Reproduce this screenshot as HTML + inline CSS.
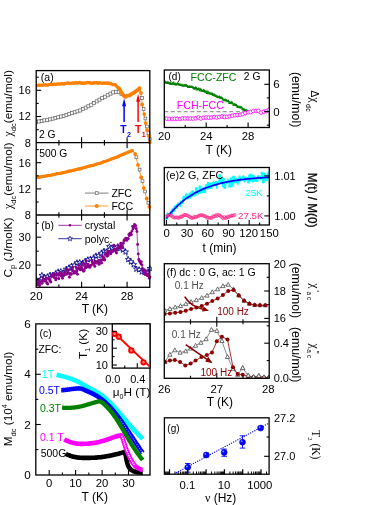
<!DOCTYPE html>
<html><head><meta charset="utf-8"><title>Figure</title>
<style>html,body{margin:0;padding:0;background:#fff;}svg{display:block;will-change:transform;}</style></head>
<body>
<svg width="390" height="505" viewBox="0 0 390 505" font-family="Liberation Sans, sans-serif">
<rect width="390" height="505" fill="#fff"/>
<clipPath id="ca"><rect x="36.2" y="70.6" width="115.6" height="74.1"/></clipPath><g clip-path="url(#ca)">
<g fill="#fff" stroke="#606060" stroke-width="0.7">
<rect x="34.7" y="120.5" width="3.1" height="3.1"/>
<rect x="37.4" y="119.9" width="3.1" height="3.1"/>
<rect x="40.2" y="119.4" width="3.1" height="3.1"/>
<rect x="42.9" y="118.8" width="3.1" height="3.1"/>
<rect x="45.7" y="118.3" width="3.1" height="3.1"/>
<rect x="48.4" y="117.8" width="3.1" height="3.1"/>
<rect x="51.2" y="117.1" width="3.1" height="3.1"/>
<rect x="53.9" y="116.4" width="3.1" height="3.1"/>
<rect x="56.7" y="115.7" width="3.1" height="3.1"/>
<rect x="59.4" y="115" width="3.1" height="3.1"/>
<rect x="62.2" y="114.3" width="3.1" height="3.1"/>
<rect x="64.9" y="113.5" width="3.1" height="3.1"/>
<rect x="67.7" y="112.5" width="3.1" height="3.1"/>
<rect x="70.4" y="111.6" width="3.1" height="3.1"/>
<rect x="73.2" y="110.7" width="3.1" height="3.1"/>
<rect x="75.9" y="109.8" width="3.1" height="3.1"/>
<rect x="78.7" y="108.9" width="3.1" height="3.1"/>
<rect x="81.4" y="107.5" width="3.1" height="3.1"/>
<rect x="84.2" y="106.1" width="3.1" height="3.1"/>
<rect x="86.9" y="104.7" width="3.1" height="3.1"/>
<rect x="89.7" y="103.2" width="3.1" height="3.1"/>
<rect x="92.4" y="101.5" width="3.1" height="3.1"/>
<rect x="95.2" y="99.8" width="3.1" height="3.1"/>
<rect x="97.9" y="98.1" width="3.1" height="3.1"/>
<rect x="100.7" y="96.6" width="3.1" height="3.1"/>
<rect x="103.4" y="95.2" width="3.1" height="3.1"/>
<rect x="106.2" y="93.7" width="3.1" height="3.1"/>
<rect x="108.9" y="92.1" width="3.1" height="3.1"/>
<rect x="111.7" y="90.8" width="3.1" height="3.1"/>
<rect x="114.4" y="90.2" width="3.1" height="3.1"/>
<rect x="117.2" y="90.5" width="3.1" height="3.1"/>
<rect x="119.9" y="92.2" width="3.1" height="3.1"/>
</g>
<g fill="#ff8000">
<circle cx="36.2" cy="86" r="1.6"/>
<circle cx="37.1" cy="85.6" r="1.6"/>
<circle cx="38" cy="85.5" r="1.6"/>
<circle cx="38.9" cy="84.9" r="1.6"/>
<circle cx="39.8" cy="85.3" r="1.6"/>
<circle cx="40.7" cy="85.2" r="1.6"/>
<circle cx="41.6" cy="85.2" r="1.6"/>
<circle cx="42.5" cy="85" r="1.6"/>
<circle cx="43.4" cy="85.1" r="1.6"/>
<circle cx="44.3" cy="84.9" r="1.6"/>
<circle cx="45.2" cy="84.6" r="1.6"/>
<circle cx="46.1" cy="85.1" r="1.6"/>
<circle cx="47" cy="85" r="1.6"/>
<circle cx="47.9" cy="85.2" r="1.6"/>
<circle cx="48.8" cy="84.7" r="1.6"/>
<circle cx="49.7" cy="84.5" r="1.6"/>
<circle cx="50.6" cy="84.4" r="1.6"/>
<circle cx="51.5" cy="84.1" r="1.6"/>
<circle cx="52.4" cy="84.7" r="1.6"/>
<circle cx="53.3" cy="84.1" r="1.6"/>
<circle cx="54.2" cy="84" r="1.6"/>
<circle cx="55.1" cy="84.2" r="1.6"/>
<circle cx="56" cy="84.6" r="1.6"/>
<circle cx="56.9" cy="84.2" r="1.6"/>
<circle cx="57.8" cy="83.8" r="1.6"/>
<circle cx="58.7" cy="83.8" r="1.6"/>
<circle cx="59.6" cy="84.1" r="1.6"/>
<circle cx="60.5" cy="83.9" r="1.6"/>
<circle cx="61.4" cy="83.6" r="1.6"/>
<circle cx="62.3" cy="83.7" r="1.6"/>
<circle cx="63.2" cy="83.9" r="1.6"/>
<circle cx="64.1" cy="84.2" r="1.6"/>
<circle cx="65" cy="83.3" r="1.6"/>
<circle cx="65.9" cy="83.4" r="1.6"/>
<circle cx="66.8" cy="83.3" r="1.6"/>
<circle cx="67.7" cy="82.9" r="1.6"/>
<circle cx="68.6" cy="83.2" r="1.6"/>
<circle cx="69.5" cy="83.1" r="1.6"/>
<circle cx="70.4" cy="83.6" r="1.6"/>
<circle cx="71.3" cy="83.3" r="1.6"/>
<circle cx="72.2" cy="82.9" r="1.6"/>
<circle cx="73.1" cy="83.4" r="1.6"/>
<circle cx="74" cy="83.1" r="1.6"/>
<circle cx="74.9" cy="82.7" r="1.6"/>
<circle cx="75.8" cy="82.9" r="1.6"/>
<circle cx="76.7" cy="82.9" r="1.6"/>
<circle cx="77.6" cy="82.8" r="1.6"/>
<circle cx="78.5" cy="83" r="1.6"/>
<circle cx="79.4" cy="82.4" r="1.6"/>
<circle cx="80.3" cy="82.8" r="1.6"/>
<circle cx="81.2" cy="83.1" r="1.6"/>
<circle cx="82.1" cy="83.1" r="1.6"/>
<circle cx="83" cy="83.2" r="1.6"/>
<circle cx="83.9" cy="83.2" r="1.6"/>
<circle cx="84.8" cy="83.2" r="1.6"/>
<circle cx="85.7" cy="82.6" r="1.6"/>
<circle cx="86.6" cy="83.1" r="1.6"/>
<circle cx="87.5" cy="82.4" r="1.6"/>
<circle cx="88.4" cy="82.7" r="1.6"/>
<circle cx="89.3" cy="82.4" r="1.6"/>
<circle cx="90.2" cy="83.1" r="1.6"/>
<circle cx="91.1" cy="83.2" r="1.6"/>
<circle cx="92" cy="82.8" r="1.6"/>
<circle cx="92.9" cy="83.3" r="1.6"/>
<circle cx="93.8" cy="82.7" r="1.6"/>
<circle cx="94.7" cy="82.9" r="1.6"/>
<circle cx="95.6" cy="82.9" r="1.6"/>
<circle cx="96.5" cy="82.6" r="1.6"/>
<circle cx="97.4" cy="82.9" r="1.6"/>
<circle cx="98.3" cy="83.3" r="1.6"/>
<circle cx="99.2" cy="82.5" r="1.6"/>
<circle cx="100.1" cy="83" r="1.6"/>
<circle cx="101" cy="82.8" r="1.6"/>
<circle cx="101.9" cy="83.3" r="1.6"/>
<circle cx="102.8" cy="83.1" r="1.6"/>
<circle cx="103.7" cy="83.2" r="1.6"/>
<circle cx="104.6" cy="83.2" r="1.6"/>
<circle cx="105.5" cy="83.2" r="1.6"/>
<circle cx="106.4" cy="82.8" r="1.6"/>
<circle cx="107.3" cy="83.5" r="1.6"/>
<circle cx="108.2" cy="82.9" r="1.6"/>
<circle cx="109.1" cy="83.4" r="1.6"/>
<circle cx="110" cy="83.7" r="1.6"/>
<circle cx="110.9" cy="83.6" r="1.6"/>
<circle cx="111.8" cy="84.1" r="1.6"/>
<circle cx="112.7" cy="84.7" r="1.6"/>
<circle cx="113.6" cy="84.6" r="1.6"/>
<circle cx="114.5" cy="84.7" r="1.6"/>
<circle cx="115.4" cy="84.6" r="1.6"/>
<circle cx="116.3" cy="85.9" r="1.6"/>
<circle cx="117.2" cy="86.8" r="1.6"/>
<circle cx="118.1" cy="87.6" r="1.85"/>
<circle cx="119" cy="88.3" r="1.85"/>
<circle cx="119.9" cy="89.6" r="1.85"/>
<circle cx="120.8" cy="91" r="1.85"/>
<circle cx="121.7" cy="92.8" r="1.85"/>
<circle cx="122.6" cy="94.4" r="1.85"/>
<circle cx="123.5" cy="95.2" r="1.85"/>
<circle cx="124.4" cy="96.4" r="1.85"/>
<circle cx="125.3" cy="96.9" r="1.85"/>
<circle cx="126.2" cy="96.4" r="1.85"/>
<circle cx="127.1" cy="95.6" r="1.85"/>
<circle cx="128" cy="95.6" r="1.85"/>
<circle cx="128.9" cy="95.4" r="1.85"/>
<circle cx="129.8" cy="95.3" r="1.85"/>
<circle cx="130.7" cy="94.6" r="1.85"/>
<circle cx="131.6" cy="93.9" r="1.85"/>
<circle cx="132.5" cy="93.3" r="1.85"/>
<circle cx="133.4" cy="93.1" r="1.85"/>
<circle cx="134.3" cy="92.4" r="1.85"/>
<circle cx="135.2" cy="91.6" r="1.85"/>
<circle cx="136.1" cy="91.2" r="1.85"/>
<circle cx="137" cy="90.4" r="1.85"/>
<circle cx="137.9" cy="89.9" r="1.85"/>
<circle cx="138.8" cy="88.7" r="1.85"/>
<circle cx="139.7" cy="88.1" r="1.85"/>
</g>
<polyline points="139.9,87.8 140.9,92.9 142.2,104.5 144.2,114.1 145.7,123.1 147.1,130.2 148.9,136 149.9,142.4" fill="none" stroke="#ff8000" stroke-width="0.8" />
<g fill="#fff" stroke="#606060" stroke-width="0.7">
<rect x="140.6" y="96.6" width="2.8" height="2.8"/>
<rect x="142.2" y="107.6" width="2.8" height="2.8"/>
<rect x="144" y="117.1" width="2.8" height="2.8"/>
<rect x="145.5" y="125.1" width="2.8" height="2.8"/>
<rect x="147.1" y="131.6" width="2.8" height="2.8"/>
<rect x="148.5" y="137.8" width="2.8" height="2.8"/>
</g>
<g fill="#ff8000">
<circle cx="140.9" cy="92.9" r="1.9"/>
<circle cx="142.2" cy="104.5" r="1.9"/>
<circle cx="144.2" cy="114.1" r="1.9"/>
<circle cx="145.7" cy="123.1" r="1.9"/>
<circle cx="147.1" cy="130.2" r="1.9"/>
<circle cx="148.9" cy="136" r="1.9"/>
<circle cx="149.9" cy="142.2" r="1.9"/>
</g>
</g>
<line x1="124.1" y1="122.1" x2="124.1" y2="105" stroke="#0000ff" stroke-width="1.5" />
<polygon points="124.1,98.5 122.1,106.3 126.1,106.3" fill="#0000ff"/>
<line x1="138.1" y1="122.1" x2="138.1" y2="100" stroke="#ff0000" stroke-width="1.5" />
<polygon points="138.1,93.9 136.1,101.7 140.1,101.7" fill="#ff0000"/>
<text x="120.3" y="132.8" font-size="10.3" fill="#0000ff" font-weight="bold" >T</text>
<text x="127" y="136.9" font-size="7" fill="#0000ff" font-weight="bold" >2</text>
<text x="135.1" y="132.8" font-size="10.3" fill="#ff0000" font-weight="bold" >T</text>
<text x="141.8" y="136.9" font-size="7" fill="#ff0000" font-weight="bold" >1</text>
<text x="40.8" y="81" font-size="10.5" >(a)</text>
<text x="39" y="137.5" font-size="10.3" >2 G</text>
<clipPath id="ca2"><rect x="36.2" y="142.7" width="115.6" height="73.3"/></clipPath><g clip-path="url(#ca2)">
<g fill="#ff8000">
<circle cx="36.2" cy="177.7" r="1.6"/>
<circle cx="37.1" cy="177.5" r="1.6"/>
<circle cx="38" cy="177.2" r="1.6"/>
<circle cx="38.9" cy="177.3" r="1.6"/>
<circle cx="39.8" cy="176.9" r="1.6"/>
<circle cx="40.7" cy="176.9" r="1.6"/>
<circle cx="41.6" cy="176.6" r="1.6"/>
<circle cx="42.5" cy="176.3" r="1.6"/>
<circle cx="43.4" cy="176.4" r="1.6"/>
<circle cx="44.3" cy="176.3" r="1.6"/>
<circle cx="45.2" cy="176.1" r="1.6"/>
<circle cx="46.1" cy="176" r="1.6"/>
<circle cx="47" cy="175.7" r="1.6"/>
<circle cx="47.9" cy="175.6" r="1.6"/>
<circle cx="48.8" cy="175.5" r="1.6"/>
<circle cx="49.7" cy="175.6" r="1.6"/>
<circle cx="50.6" cy="175.3" r="1.6"/>
<circle cx="51.5" cy="174.9" r="1.6"/>
<circle cx="52.4" cy="174.9" r="1.6"/>
<circle cx="53.3" cy="174.6" r="1.6"/>
<circle cx="54.2" cy="174.4" r="1.6"/>
<circle cx="55.1" cy="174.3" r="1.6"/>
<circle cx="56" cy="174" r="1.6"/>
<circle cx="56.9" cy="173.7" r="1.6"/>
<circle cx="57.8" cy="173.6" r="1.6"/>
<circle cx="58.7" cy="173.5" r="1.6"/>
<circle cx="59.6" cy="173.3" r="1.6"/>
<circle cx="60.5" cy="173.3" r="1.6"/>
<circle cx="61.4" cy="172.9" r="1.6"/>
<circle cx="62.3" cy="172.8" r="1.6"/>
<circle cx="63.2" cy="172.6" r="1.6"/>
<circle cx="64.1" cy="172.4" r="1.6"/>
<circle cx="65" cy="172.3" r="1.6"/>
<circle cx="65.9" cy="172" r="1.6"/>
<circle cx="66.8" cy="171.7" r="1.6"/>
<circle cx="67.7" cy="171.7" r="1.6"/>
<circle cx="68.6" cy="171.2" r="1.6"/>
<circle cx="69.5" cy="171.2" r="1.6"/>
<circle cx="70.4" cy="170.9" r="1.6"/>
<circle cx="71.3" cy="170.8" r="1.6"/>
<circle cx="72.2" cy="170.4" r="1.6"/>
<circle cx="73.1" cy="170.3" r="1.6"/>
<circle cx="74" cy="170.1" r="1.6"/>
<circle cx="74.9" cy="170" r="1.6"/>
<circle cx="75.8" cy="169.6" r="1.6"/>
<circle cx="76.7" cy="169.5" r="1.6"/>
<circle cx="77.6" cy="169.2" r="1.6"/>
<circle cx="78.5" cy="168.9" r="1.6"/>
<circle cx="79.4" cy="169.2" r="1.6"/>
<circle cx="80.3" cy="168.6" r="1.6"/>
<circle cx="81.2" cy="168.2" r="1.6"/>
<circle cx="82.1" cy="168.3" r="1.6"/>
<circle cx="83" cy="167.8" r="1.6"/>
<circle cx="83.9" cy="167.7" r="1.6"/>
<circle cx="84.8" cy="167.5" r="1.6"/>
<circle cx="85.7" cy="167.1" r="1.6"/>
<circle cx="86.6" cy="166.9" r="1.6"/>
<circle cx="87.5" cy="166.6" r="1.6"/>
<circle cx="88.4" cy="166.4" r="1.6"/>
<circle cx="89.3" cy="166" r="1.6"/>
<circle cx="90.2" cy="165.8" r="1.6"/>
<circle cx="91.1" cy="165.7" r="1.6"/>
<circle cx="92" cy="165.6" r="1.6"/>
<circle cx="92.9" cy="165.3" r="1.6"/>
<circle cx="93.8" cy="165.2" r="1.6"/>
<circle cx="94.7" cy="164.8" r="1.6"/>
<circle cx="95.6" cy="164.4" r="1.6"/>
<circle cx="96.5" cy="164.2" r="1.6"/>
<circle cx="97.4" cy="163.8" r="1.6"/>
<circle cx="98.3" cy="163.6" r="1.6"/>
<circle cx="99.2" cy="163.4" r="1.6"/>
<circle cx="100.1" cy="163.3" r="1.6"/>
<circle cx="101" cy="163" r="1.6"/>
<circle cx="101.9" cy="162.5" r="1.6"/>
<circle cx="102.8" cy="162.2" r="1.6"/>
<circle cx="103.7" cy="161.7" r="1.6"/>
<circle cx="104.6" cy="161.6" r="1.6"/>
<circle cx="105.5" cy="161.3" r="1.6"/>
<circle cx="106.4" cy="161" r="1.6"/>
<circle cx="107.3" cy="160.5" r="1.6"/>
<circle cx="108.2" cy="160.5" r="1.6"/>
<circle cx="109.1" cy="160" r="1.6"/>
<circle cx="110" cy="159.5" r="1.6"/>
<circle cx="110.9" cy="159.1" r="1.6"/>
<circle cx="111.8" cy="158.8" r="1.6"/>
<circle cx="112.7" cy="158.6" r="1.6"/>
<circle cx="113.6" cy="158.2" r="1.6"/>
<circle cx="114.5" cy="157.9" r="1.6"/>
<circle cx="115.4" cy="157.6" r="1.6"/>
<circle cx="116.3" cy="157.3" r="1.6"/>
<circle cx="117.2" cy="156.9" r="1.6"/>
<circle cx="118.1" cy="156.4" r="1.6"/>
<circle cx="119" cy="156" r="1.6"/>
<circle cx="119.9" cy="155.6" r="1.6"/>
<circle cx="120.8" cy="155.1" r="1.6"/>
<circle cx="121.7" cy="155.1" r="1.6"/>
<circle cx="122.6" cy="154.4" r="1.6"/>
<circle cx="123.5" cy="154.3" r="1.6"/>
<circle cx="124.4" cy="153.6" r="1.6"/>
<circle cx="125.3" cy="153.3" r="1.6"/>
<circle cx="126.2" cy="153" r="1.6"/>
<circle cx="127.1" cy="152.5" r="1.6"/>
<circle cx="128" cy="152.2" r="1.6"/>
<circle cx="128.9" cy="151.8" r="1.6"/>
<circle cx="129.8" cy="151.5" r="1.6"/>
<circle cx="130.7" cy="151.2" r="1.6"/>
<circle cx="131.6" cy="150.8" r="1.6"/>
<circle cx="132.5" cy="150.7" r="1.6"/>
</g>
<polyline points="132.9,151.1 135.1,154 138,164.9 141.2,177.5 143.8,188.1 146.7,198.5 149.3,206.8 150.3,210.8" fill="none" stroke="#ff8000" stroke-width="0.8" />
<g fill="#fff" stroke="#606060" stroke-width="0.7">
<rect x="135" y="155.9" width="2.8" height="2.8"/>
<rect x="138.2" y="168.2" width="2.8" height="2.8"/>
<rect x="141.1" y="179.7" width="2.8" height="2.8"/>
<rect x="143.7" y="190.1" width="2.8" height="2.8"/>
<rect x="147" y="201.4" width="2.8" height="2.8"/>
</g>
<g fill="#ff8000">
<circle cx="135.1" cy="154" r="1.9"/>
<circle cx="138" cy="164.9" r="1.9"/>
<circle cx="141.2" cy="177.5" r="1.9"/>
<circle cx="143.8" cy="188.1" r="1.9"/>
<circle cx="146.7" cy="198.5" r="1.9"/>
<circle cx="149.3" cy="206.8" r="1.9"/>
</g>
</g>
<text x="39.2" y="157.1" font-size="10.3" >500 G</text>
<line x1="85" y1="193.1" x2="108.4" y2="193.1" stroke="#606060" stroke-width="0.8" />
<g fill="#fff" stroke="#606060" stroke-width="0.7">
<rect x="95.3" y="191.7" width="2.8" height="2.8"/>
</g>
<text x="111.4" y="196.8" font-size="10.6" >ZFC</text>
<line x1="85" y1="206" x2="108.4" y2="206" stroke="#ff8000" stroke-width="0.8" />
<g fill="#ff8000">
<circle cx="96.7" cy="206" r="2.0"/>
</g>
<text x="111.4" y="209.6" font-size="10.6" >FCC</text>
<clipPath id="cb"><rect x="36.2" y="215" width="115.6" height="73.3"/></clipPath><g clip-path="url(#cb)">
<polyline points="36.5,279.8 39.2,280.8 41.9,275.4 44.6,277.2 47.3,276.8 50,275 52.7,275.4 55.4,273.8 58.1,271.8 60.8,271.5 63.5,272.7 66.2,269.1 68.9,268 71.6,266 74.3,265.4 77,262.7 79.7,262.5 82.4,264 85.1,261.3 87.8,259.7 90.5,258.9 93.2,258.5 95.9,255.9 98.6,255.8 101.3,253.3 104,251.1 106.7,251.7 109.4,246.6 112.1,247.7 114.8,247.9 117.5,246.7 120.2,248.5 122.9,250 125.6,251.9 128.3,259.5 131,261.9 133.7,264.6 136.4,269 139.1,269.7 141.8,271.9 144.5,272.1 147.2,272.4 149.9,268.4" fill="none" stroke="#00008b" stroke-width="0.6" />
<g fill="#fff" stroke="#00008b" stroke-width="0.85">
<polygon points="36.5,276.8 37.2,278.8 39.4,278.9 37.7,280.2 38.3,282.3 36.5,281.1 34.7,282.3 35.3,280.2 33.6,278.9 35.8,278.8"/>
<polygon points="39.2,277.8 39.9,279.8 42.1,279.9 40.4,281.2 41,283.2 39.2,282 37.4,283.2 38,281.2 36.3,279.9 38.5,279.8"/>
<polygon points="41.9,272.4 42.6,274.4 44.8,274.5 43.1,275.8 43.7,277.9 41.9,276.7 40.1,277.9 40.7,275.8 39,274.5 41.2,274.4"/>
<polygon points="44.6,274.2 45.3,276.2 47.5,276.3 45.8,277.6 46.4,279.6 44.6,278.5 42.8,279.6 43.4,277.6 41.7,276.3 43.9,276.2"/>
<polygon points="47.3,273.8 48,275.8 50.2,275.9 48.5,277.2 49.1,279.2 47.3,278.1 45.5,279.2 46.1,277.2 44.4,275.9 46.6,275.8"/>
<polygon points="50,272 50.7,274 52.9,274.1 51.2,275.4 51.8,277.4 50,276.3 48.2,277.4 48.8,275.4 47.1,274.1 49.3,274"/>
<polygon points="52.7,272.4 53.4,274.4 55.6,274.5 53.9,275.8 54.5,277.8 52.7,276.7 50.9,277.8 51.5,275.8 49.8,274.5 52,274.4"/>
<polygon points="55.4,270.8 56.1,272.8 58.3,272.9 56.6,274.2 57.2,276.3 55.4,275.1 53.6,276.3 54.2,274.2 52.5,272.9 54.7,272.8"/>
<polygon points="58.1,268.8 58.8,270.8 61,270.9 59.3,272.2 59.9,274.3 58.1,273.1 56.3,274.3 56.9,272.2 55.2,270.9 57.4,270.8"/>
<polygon points="60.8,268.5 61.5,270.4 63.7,270.5 62,271.9 62.6,273.9 60.8,272.7 59,273.9 59.6,271.9 57.9,270.5 60.1,270.4"/>
<polygon points="63.5,269.7 64.2,271.7 66.4,271.8 64.7,273.1 65.3,275.2 63.5,274 61.7,275.2 62.3,273.1 60.6,271.8 62.8,271.7"/>
<polygon points="66.2,266.1 66.9,268.1 69.1,268.2 67.4,269.5 68,271.5 66.2,270.4 64.4,271.5 65,269.5 63.3,268.2 65.5,268.1"/>
<polygon points="68.9,265 69.6,267 71.8,267.1 70.1,268.4 70.7,270.4 68.9,269.3 67.1,270.4 67.7,268.4 66,267.1 68.2,267"/>
<polygon points="71.6,263 72.3,265 74.5,265.1 72.8,266.4 73.4,268.5 71.6,267.3 69.8,268.5 70.4,266.4 68.7,265.1 70.9,265"/>
<polygon points="74.3,262.4 75,264.3 77.2,264.4 75.5,265.8 76.1,267.8 74.3,266.6 72.5,267.8 73.1,265.8 71.4,264.4 73.6,264.3"/>
<polygon points="77,259.7 77.7,261.7 79.9,261.8 78.2,263.1 78.8,265.1 77,264 75.2,265.1 75.8,263.1 74.1,261.8 76.3,261.7"/>
<polygon points="79.7,259.5 80.4,261.5 82.6,261.6 80.9,262.9 81.5,265 79.7,263.8 77.9,265 78.5,262.9 76.8,261.6 79,261.5"/>
<polygon points="82.4,261 83.1,262.9 85.3,263 83.6,264.3 84.2,266.4 82.4,265.2 80.6,266.4 81.2,264.3 79.5,263 81.7,262.9"/>
<polygon points="85.1,258.3 85.8,260.3 88,260.4 86.3,261.7 86.9,263.7 85.1,262.6 83.3,263.7 83.9,261.7 82.2,260.4 84.4,260.3"/>
<polygon points="87.8,256.7 88.5,258.7 90.7,258.8 89,260.1 89.6,262.1 87.8,260.9 86,262.1 86.6,260.1 84.9,258.8 87.1,258.7"/>
<polygon points="90.5,255.9 91.2,257.9 93.4,258 91.7,259.3 92.3,261.4 90.5,260.2 88.7,261.4 89.3,259.3 87.6,258 89.8,257.9"/>
<polygon points="93.2,255.5 93.9,257.5 96.1,257.6 94.4,258.9 95,260.9 93.2,259.8 91.4,260.9 92,258.9 90.3,257.6 92.5,257.5"/>
<polygon points="95.9,252.9 96.6,254.9 98.8,255 97.1,256.3 97.7,258.3 95.9,257.1 94.1,258.3 94.7,256.3 93,255 95.2,254.9"/>
<polygon points="98.6,252.8 99.3,254.8 101.5,254.9 99.8,256.2 100.4,258.2 98.6,257.1 96.8,258.2 97.4,256.2 95.7,254.9 97.9,254.8"/>
<polygon points="101.3,250.3 102,252.3 104.2,252.3 102.5,253.7 103.1,255.7 101.3,254.5 99.5,255.7 100.1,253.7 98.4,252.3 100.6,252.3"/>
<polygon points="104,248.1 104.7,250.1 106.9,250.2 105.2,251.5 105.8,253.5 104,252.4 102.2,253.5 102.8,251.5 101.1,250.2 103.3,250.1"/>
<polygon points="106.7,248.7 107.4,250.6 109.6,250.7 107.9,252.1 108.5,254.1 106.7,252.9 104.9,254.1 105.5,252.1 103.8,250.7 106,250.6"/>
<polygon points="109.4,243.6 110.1,245.6 112.3,245.7 110.6,247 111.2,249 109.4,247.9 107.6,249 108.2,247 106.5,245.7 108.7,245.6"/>
<polygon points="112.1,244.7 112.8,246.6 115,246.7 113.3,248.1 113.9,250.1 112.1,248.9 110.3,250.1 110.9,248.1 109.2,246.7 111.4,246.6"/>
<polygon points="114.8,244.9 115.5,246.9 117.7,247 116,248.3 116.6,250.3 114.8,249.2 113,250.3 113.6,248.3 111.9,247 114.1,246.9"/>
<polygon points="117.5,243.7 118.2,245.7 120.4,245.8 118.7,247.1 119.3,249.1 117.5,247.9 115.7,249.1 116.3,247.1 114.6,245.8 116.8,245.7"/>
<polygon points="120.2,245.5 120.9,247.5 123.1,247.6 121.4,248.9 122,250.9 120.2,249.8 118.4,250.9 119,248.9 117.3,247.6 119.5,247.5"/>
<polygon points="122.9,247 123.6,249 125.8,249 124.1,250.4 124.7,252.4 122.9,251.2 121.1,252.4 121.7,250.4 120,249 122.2,249"/>
<polygon points="125.6,248.9 126.3,250.9 128.5,251 126.8,252.3 127.4,254.3 125.6,253.2 123.8,254.3 124.4,252.3 122.7,251 124.9,250.9"/>
<polygon points="128.3,256.5 129,258.5 131.2,258.6 129.5,259.9 130.1,261.9 128.3,260.8 126.5,261.9 127.1,259.9 125.4,258.6 127.6,258.5"/>
<polygon points="131,258.9 131.7,260.8 133.9,260.9 132.2,262.2 132.8,264.3 131,263.1 129.2,264.3 129.8,262.2 128.1,260.9 130.3,260.8"/>
<polygon points="133.7,261.6 134.4,263.6 136.6,263.7 134.9,265 135.5,267.1 133.7,265.9 131.9,267.1 132.5,265 130.8,263.7 133,263.6"/>
<polygon points="136.4,266 137.1,268 139.3,268.1 137.6,269.4 138.2,271.5 136.4,270.3 134.6,271.5 135.2,269.4 133.5,268.1 135.7,268"/>
<polygon points="139.1,266.7 139.8,268.7 142,268.8 140.3,270.1 140.9,272.2 139.1,271 137.3,272.2 137.9,270.1 136.2,268.8 138.4,268.7"/>
<polygon points="141.8,268.9 142.5,270.9 144.7,271 143,272.3 143.6,274.3 141.8,273.1 140,274.3 140.6,272.3 138.9,271 141.1,270.9"/>
<polygon points="144.5,269.1 145.2,271.1 147.4,271.2 145.7,272.5 146.3,274.6 144.5,273.4 142.7,274.6 143.3,272.5 141.6,271.2 143.8,271.1"/>
<polygon points="147.2,269.4 147.9,271.3 150.1,271.4 148.4,272.7 149,274.8 147.2,273.6 145.4,274.8 146,272.7 144.3,271.4 146.5,271.3"/>
<polygon points="149.9,265.4 150.6,267.4 152.8,267.5 151.1,268.8 151.7,270.8 149.9,269.6 148.1,270.8 148.7,268.8 147,267.5 149.2,267.4"/>
</g>
<polyline points="36.5,284.9 37.1,283.3 37.7,280.4 38.4,284.9 39,280.6 39.6,285.6 40.2,283 40.8,283.2 41.5,281.7 42.1,283.2 42.7,277.1 43.3,281 43.9,279.3 44.6,281 45.2,280.1 45.8,281.2 46.4,278 47,283.3 47.7,284.1 48.3,278.6 48.9,278.8 49.5,279.2 50.1,281 50.8,282.1 51.4,275.4 52,276.4 52.6,275.3 53.2,275 53.9,273.8 54.5,277.8 55.1,274.4 55.7,279.9 56.3,278.4 57,274.2 57.6,274 58.2,274.8 58.8,278.8 59.4,273.9 60.1,272.4 60.7,275.3 61.3,276 61.9,273.6 62.5,278.3 63.2,275.2 63.8,275.5 64.4,272.6 65,274.1 65.6,273.7 66.3,269.1 66.9,274.3 67.5,269.7 68.1,273.3 68.7,270.1 69.4,277.2 70,273.4 70.6,274.3 71.2,274.2 71.8,269.3 72.5,267.1 73.1,270.9 73.7,273.3 74.3,271.4 74.9,272.6 75.6,272.7 76.2,267.4 76.8,271 77.4,274.3 78,268.7 78.7,265.4 79.3,269 79.9,268.3 80.5,269.9 81.1,267 81.8,268.8 82.4,263.8 83,270 83.6,271.3 84.2,270.5 84.9,264.4 85.5,268 86.1,260.8 86.7,267.3 87.3,266.4 88,264.1 88.6,266.7 89.2,266 89.8,267.4 90.4,265.4 91.1,265.4 91.7,260.5 92.3,261.9 92.9,263.1 93.5,264.4 94.2,263.5 94.8,266.4 95.4,261.2 96,262.2 96.6,263 97.3,261.7 97.9,263 98.5,260.5 99.1,264.4 99.7,260.4 100.4,263.1 101,260.2 101.6,262.9 102.2,256.4 102.8,259.9 103.5,257.5 104.1,258.4 104.7,260 105.3,254.6 105.9,253.8 106.6,254 107.2,256.2 107.8,251.3 108.4,255 109,251.7 109.7,251.5 110.3,252.7 110.9,253.8 111.5,251.3 112.1,251.1 112.8,251.6 113.4,250.7 114,245.2 114.6,249.4 115.2,249.9 115.9,251.5 116.5,253 117.1,249.6 117.7,247.8 118.3,245.1 119,246.8 119.6,247.7 120.2,248.2 120.8,243.2 121.4,245.1 122.1,245.7 122.7,247.4 123.3,243.3 123.9,240.8 124.5,239.7 125.2,239.6 125.8,238.1 126.4,240.4 127,240.1 127.6,238.6 128.3,238.8 128.9,234.5 129.5,235.5 130.1,233.1 130.7,233.1 131.4,234.7 132,231.1 132.6,226.4 133.2,228.8 133.8,227 134.5,224.4 135.1,226.1 135.7,225.6 136.3,228.7 136.9,231.5 137.6,244.5 138.2,253.9 138.8,259.5 139.4,261 140,262.1 140.7,263.5 141.3,261.8 141.9,265 142.5,268.4 143.1,269.9 143.8,272 144.4,269.7 145,274.5 145.6,273.7 146.2,271.2 146.9,275.2 147.5,274 148.1,275.9 148.7,275.5 149.3,278.2 150,276.9" fill="none" stroke="#8b008b" stroke-width="0.7" />
<g fill="#8b008b">
<circle cx="36.5" cy="284.9" r="1.45"/>
<circle cx="37.1" cy="283.3" r="1.45"/>
<circle cx="37.7" cy="280.4" r="1.45"/>
<circle cx="38.4" cy="284.9" r="1.45"/>
<circle cx="39" cy="280.6" r="1.45"/>
<circle cx="39.6" cy="285.6" r="1.45"/>
<circle cx="40.2" cy="283" r="1.45"/>
<circle cx="40.8" cy="283.2" r="1.45"/>
<circle cx="41.5" cy="281.7" r="1.45"/>
<circle cx="42.1" cy="283.2" r="1.45"/>
<circle cx="42.7" cy="277.1" r="1.45"/>
<circle cx="43.3" cy="281" r="1.45"/>
<circle cx="43.9" cy="279.3" r="1.45"/>
<circle cx="44.6" cy="281" r="1.45"/>
<circle cx="45.2" cy="280.1" r="1.45"/>
<circle cx="45.8" cy="281.2" r="1.45"/>
<circle cx="46.4" cy="278" r="1.45"/>
<circle cx="47" cy="283.3" r="1.45"/>
<circle cx="47.7" cy="284.1" r="1.45"/>
<circle cx="48.3" cy="278.6" r="1.45"/>
<circle cx="48.9" cy="278.8" r="1.45"/>
<circle cx="49.5" cy="279.2" r="1.45"/>
<circle cx="50.1" cy="281" r="1.45"/>
<circle cx="50.8" cy="282.1" r="1.45"/>
<circle cx="51.4" cy="275.4" r="1.45"/>
<circle cx="52" cy="276.4" r="1.45"/>
<circle cx="52.6" cy="275.3" r="1.45"/>
<circle cx="53.2" cy="275" r="1.45"/>
<circle cx="53.9" cy="273.8" r="1.45"/>
<circle cx="54.5" cy="277.8" r="1.45"/>
<circle cx="55.1" cy="274.4" r="1.45"/>
<circle cx="55.7" cy="279.9" r="1.45"/>
<circle cx="56.3" cy="278.4" r="1.45"/>
<circle cx="57" cy="274.2" r="1.45"/>
<circle cx="57.6" cy="274" r="1.45"/>
<circle cx="58.2" cy="274.8" r="1.45"/>
<circle cx="58.8" cy="278.8" r="1.45"/>
<circle cx="59.4" cy="273.9" r="1.45"/>
<circle cx="60.1" cy="272.4" r="1.45"/>
<circle cx="60.7" cy="275.3" r="1.45"/>
<circle cx="61.3" cy="276" r="1.45"/>
<circle cx="61.9" cy="273.6" r="1.45"/>
<circle cx="62.5" cy="278.3" r="1.45"/>
<circle cx="63.2" cy="275.2" r="1.45"/>
<circle cx="63.8" cy="275.5" r="1.45"/>
<circle cx="64.4" cy="272.6" r="1.45"/>
<circle cx="65" cy="274.1" r="1.45"/>
<circle cx="65.6" cy="273.7" r="1.45"/>
<circle cx="66.3" cy="269.1" r="1.45"/>
<circle cx="66.9" cy="274.3" r="1.45"/>
<circle cx="67.5" cy="269.7" r="1.45"/>
<circle cx="68.1" cy="273.3" r="1.45"/>
<circle cx="68.7" cy="270.1" r="1.45"/>
<circle cx="69.4" cy="277.2" r="1.45"/>
<circle cx="70" cy="273.4" r="1.45"/>
<circle cx="70.6" cy="274.3" r="1.45"/>
<circle cx="71.2" cy="274.2" r="1.45"/>
<circle cx="71.8" cy="269.3" r="1.45"/>
<circle cx="72.5" cy="267.1" r="1.45"/>
<circle cx="73.1" cy="270.9" r="1.45"/>
<circle cx="73.7" cy="273.3" r="1.45"/>
<circle cx="74.3" cy="271.4" r="1.45"/>
<circle cx="74.9" cy="272.6" r="1.45"/>
<circle cx="75.6" cy="272.7" r="1.45"/>
<circle cx="76.2" cy="267.4" r="1.45"/>
<circle cx="76.8" cy="271" r="1.45"/>
<circle cx="77.4" cy="274.3" r="1.45"/>
<circle cx="78" cy="268.7" r="1.45"/>
<circle cx="78.7" cy="265.4" r="1.45"/>
<circle cx="79.3" cy="269" r="1.45"/>
<circle cx="79.9" cy="268.3" r="1.45"/>
<circle cx="80.5" cy="269.9" r="1.45"/>
<circle cx="81.1" cy="267" r="1.45"/>
<circle cx="81.8" cy="268.8" r="1.45"/>
<circle cx="82.4" cy="263.8" r="1.45"/>
<circle cx="83" cy="270" r="1.45"/>
<circle cx="83.6" cy="271.3" r="1.45"/>
<circle cx="84.2" cy="270.5" r="1.45"/>
<circle cx="84.9" cy="264.4" r="1.45"/>
<circle cx="85.5" cy="268" r="1.45"/>
<circle cx="86.1" cy="260.8" r="1.45"/>
<circle cx="86.7" cy="267.3" r="1.45"/>
<circle cx="87.3" cy="266.4" r="1.45"/>
<circle cx="88" cy="264.1" r="1.45"/>
<circle cx="88.6" cy="266.7" r="1.45"/>
<circle cx="89.2" cy="266" r="1.45"/>
<circle cx="89.8" cy="267.4" r="1.45"/>
<circle cx="90.4" cy="265.4" r="1.45"/>
<circle cx="91.1" cy="265.4" r="1.45"/>
<circle cx="91.7" cy="260.5" r="1.45"/>
<circle cx="92.3" cy="261.9" r="1.45"/>
<circle cx="92.9" cy="263.1" r="1.45"/>
<circle cx="93.5" cy="264.4" r="1.45"/>
<circle cx="94.2" cy="263.5" r="1.45"/>
<circle cx="94.8" cy="266.4" r="1.45"/>
<circle cx="95.4" cy="261.2" r="1.45"/>
<circle cx="96" cy="262.2" r="1.45"/>
<circle cx="96.6" cy="263" r="1.45"/>
<circle cx="97.3" cy="261.7" r="1.45"/>
<circle cx="97.9" cy="263" r="1.45"/>
<circle cx="98.5" cy="260.5" r="1.45"/>
<circle cx="99.1" cy="264.4" r="1.45"/>
<circle cx="99.7" cy="260.4" r="1.45"/>
<circle cx="100.4" cy="263.1" r="1.45"/>
<circle cx="101" cy="260.2" r="1.45"/>
<circle cx="101.6" cy="262.9" r="1.45"/>
<circle cx="102.2" cy="256.4" r="1.45"/>
<circle cx="102.8" cy="259.9" r="1.45"/>
<circle cx="103.5" cy="257.5" r="1.45"/>
<circle cx="104.1" cy="258.4" r="1.45"/>
<circle cx="104.7" cy="260" r="1.45"/>
<circle cx="105.3" cy="254.6" r="1.45"/>
<circle cx="105.9" cy="253.8" r="1.45"/>
<circle cx="106.6" cy="254" r="1.45"/>
<circle cx="107.2" cy="256.2" r="1.45"/>
<circle cx="107.8" cy="251.3" r="1.45"/>
<circle cx="108.4" cy="255" r="1.45"/>
<circle cx="109" cy="251.7" r="1.45"/>
<circle cx="109.7" cy="251.5" r="1.45"/>
<circle cx="110.3" cy="252.7" r="1.45"/>
<circle cx="110.9" cy="253.8" r="1.45"/>
<circle cx="111.5" cy="251.3" r="1.45"/>
<circle cx="112.1" cy="251.1" r="1.45"/>
<circle cx="112.8" cy="251.6" r="1.45"/>
<circle cx="113.4" cy="250.7" r="1.45"/>
<circle cx="114" cy="245.2" r="1.45"/>
<circle cx="114.6" cy="249.4" r="1.45"/>
<circle cx="115.2" cy="249.9" r="1.45"/>
<circle cx="115.9" cy="251.5" r="1.45"/>
<circle cx="116.5" cy="253" r="1.45"/>
<circle cx="117.1" cy="249.6" r="1.45"/>
<circle cx="117.7" cy="247.8" r="1.45"/>
<circle cx="118.3" cy="245.1" r="1.45"/>
<circle cx="119" cy="246.8" r="1.45"/>
<circle cx="119.6" cy="247.7" r="1.45"/>
<circle cx="120.2" cy="248.2" r="1.45"/>
<circle cx="120.8" cy="243.2" r="1.45"/>
<circle cx="121.4" cy="245.1" r="1.45"/>
<circle cx="122.1" cy="245.7" r="1.45"/>
<circle cx="122.7" cy="247.4" r="1.45"/>
<circle cx="123.3" cy="243.3" r="1.45"/>
<circle cx="123.9" cy="240.8" r="1.45"/>
<circle cx="124.5" cy="239.7" r="1.45"/>
<circle cx="125.2" cy="239.6" r="1.45"/>
<circle cx="125.8" cy="238.1" r="1.45"/>
<circle cx="126.4" cy="240.4" r="1.45"/>
<circle cx="127" cy="240.1" r="1.45"/>
<circle cx="127.6" cy="238.6" r="1.45"/>
<circle cx="128.3" cy="238.8" r="1.45"/>
<circle cx="128.9" cy="234.5" r="1.45"/>
<circle cx="129.5" cy="235.5" r="1.45"/>
<circle cx="130.1" cy="233.1" r="1.45"/>
<circle cx="130.7" cy="233.1" r="1.45"/>
<circle cx="131.4" cy="234.7" r="1.45"/>
<circle cx="132" cy="231.1" r="1.45"/>
<circle cx="132.6" cy="226.4" r="1.45"/>
<circle cx="133.2" cy="228.8" r="1.45"/>
<circle cx="133.8" cy="227" r="1.45"/>
<circle cx="134.5" cy="224.4" r="1.45"/>
<circle cx="135.1" cy="226.1" r="1.45"/>
<circle cx="135.7" cy="225.6" r="1.45"/>
<circle cx="136.3" cy="228.7" r="1.45"/>
<circle cx="136.9" cy="231.5" r="1.45"/>
<circle cx="137.6" cy="244.5" r="1.45"/>
<circle cx="138.2" cy="253.9" r="1.45"/>
<circle cx="138.8" cy="259.5" r="1.45"/>
<circle cx="139.4" cy="261" r="1.45"/>
<circle cx="140" cy="262.1" r="1.45"/>
<circle cx="140.7" cy="263.5" r="1.45"/>
<circle cx="141.3" cy="261.8" r="1.45"/>
<circle cx="141.9" cy="265" r="1.45"/>
<circle cx="142.5" cy="268.4" r="1.45"/>
<circle cx="143.1" cy="269.9" r="1.45"/>
<circle cx="143.8" cy="272" r="1.45"/>
<circle cx="144.4" cy="269.7" r="1.45"/>
<circle cx="145" cy="274.5" r="1.45"/>
<circle cx="145.6" cy="273.7" r="1.45"/>
<circle cx="146.2" cy="271.2" r="1.45"/>
<circle cx="146.9" cy="275.2" r="1.45"/>
<circle cx="147.5" cy="274" r="1.45"/>
<circle cx="148.1" cy="275.9" r="1.45"/>
<circle cx="148.7" cy="275.5" r="1.45"/>
<circle cx="149.3" cy="278.2" r="1.45"/>
<circle cx="150" cy="276.9" r="1.45"/>
</g>
</g>
<text x="41.3" y="228.7" font-size="10.3" >(b)</text>
<line x1="58.3" y1="225.3" x2="81.7" y2="225.3" stroke="#8b008b" stroke-width="0.8" />
<g fill="#8b008b">
<circle cx="70" cy="225.3" r="1.3"/>
</g>
<text x="84.7" y="229" font-size="10.6" >crystal</text>
<line x1="58.3" y1="238.7" x2="81.7" y2="238.7" stroke="#00008b" stroke-width="0.8" />
<g fill="#fff" stroke="#00008b" stroke-width="0.7">
<polygon points="70,236.1 70.6,237.8 72.5,237.9 71,239 71.5,240.8 70,239.8 68.5,240.8 69,239 67.5,237.9 69.4,237.8"/>
</g>
<text x="84.7" y="242.5" font-size="10.6" >polyc.</text>
<rect x="36.2" y="70.6" width="113.6" height="216.7" fill="none" stroke="#000" stroke-width="1.3"/>
<line x1="36.2" y1="142.7" x2="149.8" y2="142.7" stroke="#000" stroke-width="1.3" />
<line x1="36.2" y1="215" x2="149.8" y2="215" stroke="#000" stroke-width="1.3" />
<line x1="58.9" y1="140" x2="58.9" y2="145.4" stroke="#000" stroke-width="1.1" />
<line x1="81.6" y1="137.2" x2="81.6" y2="148.2" stroke="#000" stroke-width="1.1" />
<line x1="104.4" y1="140" x2="104.4" y2="145.4" stroke="#000" stroke-width="1.1" />
<line x1="127.1" y1="137.2" x2="127.1" y2="148.2" stroke="#000" stroke-width="1.1" />
<line x1="58.9" y1="212.3" x2="58.9" y2="217.7" stroke="#000" stroke-width="1.1" />
<line x1="81.6" y1="209.5" x2="81.6" y2="220.5" stroke="#000" stroke-width="1.1" />
<line x1="104.4" y1="212.3" x2="104.4" y2="217.7" stroke="#000" stroke-width="1.1" />
<line x1="127.1" y1="209.5" x2="127.1" y2="220.5" stroke="#000" stroke-width="1.1" />
<line x1="58.9" y1="287.3" x2="58.9" y2="284.6" stroke="#000" stroke-width="1.1" />
<line x1="81.6" y1="287.3" x2="81.6" y2="281.8" stroke="#000" stroke-width="1.1" />
<line x1="104.4" y1="287.3" x2="104.4" y2="284.6" stroke="#000" stroke-width="1.1" />
<line x1="127.1" y1="287.3" x2="127.1" y2="281.8" stroke="#000" stroke-width="1.1" />
<text x="36.2" y="299.7" font-size="11.5" text-anchor="middle" >20</text>
<text x="81.6" y="299.7" font-size="11.5" text-anchor="middle" >24</text>
<text x="127.1" y="299.7" font-size="11.5" text-anchor="middle" >28</text>
<text x="94.9" y="312.7" font-size="12" text-anchor="middle" >T (K)</text>
<line x1="36.2" y1="129.7" x2="38.7" y2="129.7" stroke="#000" stroke-width="1.1" />
<line x1="36.2" y1="116.5" x2="41.2" y2="116.5" stroke="#000" stroke-width="1.1" />
<text x="30.8" y="120.4" font-size="11" text-anchor="end" >12</text>
<line x1="36.2" y1="103.4" x2="38.7" y2="103.4" stroke="#000" stroke-width="1.1" />
<line x1="36.2" y1="90.3" x2="41.2" y2="90.3" stroke="#000" stroke-width="1.1" />
<text x="30.8" y="94.2" font-size="11" text-anchor="end" >16</text>
<line x1="36.2" y1="77.2" x2="38.7" y2="77.2" stroke="#000" stroke-width="1.1" />
<text x="30.8" y="146.6" font-size="11" text-anchor="end" >8</text>
<line x1="36.2" y1="202" x2="38.7" y2="202" stroke="#000" stroke-width="1.1" />
<line x1="36.2" y1="188.9" x2="41.2" y2="188.9" stroke="#000" stroke-width="1.1" />
<text x="30.8" y="192.8" font-size="11" text-anchor="end" >12</text>
<line x1="36.2" y1="175.8" x2="38.7" y2="175.8" stroke="#000" stroke-width="1.1" />
<line x1="36.2" y1="162.7" x2="41.2" y2="162.7" stroke="#000" stroke-width="1.1" />
<text x="30.8" y="166.6" font-size="11" text-anchor="end" >16</text>
<line x1="36.2" y1="149.6" x2="38.7" y2="149.6" stroke="#000" stroke-width="1.1" />
<text x="30.8" y="218.9" font-size="11" text-anchor="end" >8</text>
<line x1="36.2" y1="279.1" x2="38.7" y2="279.1" stroke="#000" stroke-width="1.1" />
<line x1="36.2" y1="265.1" x2="41.2" y2="265.1" stroke="#000" stroke-width="1.1" />
<text x="30.8" y="269" font-size="11" text-anchor="end" >20</text>
<line x1="36.2" y1="251.2" x2="38.7" y2="251.2" stroke="#000" stroke-width="1.1" />
<line x1="36.2" y1="237.2" x2="41.2" y2="237.2" stroke="#000" stroke-width="1.1" />
<text x="30.8" y="241.1" font-size="11" text-anchor="end" >30</text>
<line x1="36.2" y1="223.3" x2="38.7" y2="223.3" stroke="#000" stroke-width="1.1" />
<text transform="translate(11.9,103.3) rotate(-90)" font-size="11.8" text-anchor="middle" fill="#000"><tspan font-family="Liberation Serif, serif">χ</tspan><tspan font-size="7.5" dy="4">dc</tspan><tspan dy="-4">(emu/mol)</tspan></text>
<text transform="translate(11.9,175.8) rotate(-90)" font-size="11.8" text-anchor="middle" fill="#000"><tspan font-family="Liberation Serif, serif">χ</tspan><tspan font-size="7.5" dy="4">dc</tspan><tspan dy="-4">(emu/mol)</tspan></text>
<text transform="translate(11.9,247.6) rotate(-90)" font-size="11.8" text-anchor="middle" fill="#000">C<tspan font-size="7.5" dy="3">p</tspan><tspan dy="-3"> (J/molK)</tspan></text>
<clipPath id="cc"><rect x="35.8" y="323.9" width="114.2" height="151.1"/></clipPath><g clip-path="url(#cc)">
<polyline points="65.8,453.8 66.5,454.2 67.3,454.6 68,454.9 68.8,455.2 69.5,455.5 70.3,455.8 71,456 71.7,456.3 72.5,456.5 73.2,456.7 74,456.8 74.7,457 75.4,457.1 76.2,457.3 76.9,457.4 77.7,457.5 78.4,457.6 79.2,457.6 79.9,457.7 80.6,457.8 81.4,457.8 82.1,457.9 82.9,457.9 83.6,457.9 84.3,457.9 85.1,457.9 85.8,457.9 86.6,457.9 87.3,457.9 88.1,457.9 88.8,457.9 89.5,457.9 90.3,457.9 91,457.8 91.8,457.8 92.5,457.8 93.2,457.7 94,457.7 94.7,457.7 95.5,457.6 96.2,457.6 97,457.5 97.7,457.4 98.4,457.4 99.2,457.3 99.9,457.2 100.7,457.2 101.4,457.1 102.1,457 102.9,456.9 103.6,456.8 104.4,456.7 105.1,456.5 105.9,456.4 106.6,456.3 107.3,456.1 108.1,456 108.8,455.9 109.6,455.7 110.3,455.6 111,455.4 111.8,455.2 112.5,455.1 113.3,454.9 114,454.8 114.8,454.6 115.5,454.4 116.2,454.3 117,454.1 117.7,453.9 118.5,453.7 119.2,453.5 119.9,453.3 120.7,453.1 121.4,452.9 122.2,452.6 122.9,452.4 123.7,452.2 124.4,451.9 124.8,452.5 125.1,453.5 125.5,454.7 125.9,456.3 126.3,458.5 126.6,460.4 127,461.9 127.4,463.4 127.8,464.7 128.1,465.7 128.5,466.5 128.9,467.1 129.3,467.7 129.6,468.2 130,468.7 130.4,469.1 130.7,469.5 131.1,469.8 131.5,470.1 131.9,470.3 132.2,470.5 132.6,470.7 133,470.9 133.4,471.1 133.7,471.3 134.1,471.4 134.5,471.5 134.9,471.6 135.2,471.8 135.6,471.8 136,471.9 136.4,472 136.7,472.1 137.1,472.1 137.5,472.2 137.8,472.2 138.2,472.3 138.6,472.3 139,472.4 139.3,472.4 139.7,472.4 140.1,472.5 140.5,472.5 140.8,472.5 141.2,472.6 141.6,472.6 142,472.6 142.3,472.6 142.7,472.6" fill="none" stroke="#000" stroke-width="4.6" stroke-linejoin="round"/>
<polyline points="64.2,439.4 64.9,439.8 65.6,440.2 66.4,440.5 67.1,440.8 67.8,441.1 68.5,441.4 69.2,441.7 69.9,442 70.7,442.2 71.4,442.4 72.1,442.6 72.8,442.8 73.5,443 74.2,443.1 75,443.3 75.7,443.4 76.4,443.5 77.1,443.6 77.8,443.7 78.6,443.7 79.3,443.8 80,443.8 80.7,443.9 81.4,443.9 82.1,443.9 82.9,443.9 83.6,443.9 84.3,443.8 85,443.8 85.7,443.8 86.4,443.7 87.2,443.7 87.9,443.6 88.6,443.6 89.3,443.5 90,443.4 90.8,443.4 91.5,443.3 92.2,443.2 92.9,443.1 93.6,443 94.3,442.9 95.1,442.8 95.8,442.6 96.5,442.5 97.2,442.4 97.9,442.2 98.7,442.1 99.4,441.9 100.1,441.7 100.8,441.5 101.5,441.3 102.2,441.1 103,440.9 103.7,440.7 104.4,440.5 105.1,440.3 105.8,440 106.5,439.8 107.3,439.5 108,439.3 108.7,439 109.4,438.7 110.1,438.5 110.9,438.2 111.6,437.9 112.3,437.7 113,437.4 113.7,437.2 114.4,436.9 115.2,436.7 115.9,436.5 116.6,436.2 117.3,436 118,435.9 118.7,435.7 119.5,435.5 120.2,435.4 120.9,435.3 121.3,435.6 121.6,436.2 122,436.8 122.4,437.5 122.7,438.4 123.1,439.5 123.5,440.8 123.9,442 124.2,443.1 124.6,444.3 125,445.4 125.3,446.5 125.7,447.6 126.1,448.6 126.4,449.6 126.8,450.6 127.2,451.5 127.6,452.5 127.9,453.4 128.3,454.2 128.7,455.1 129,455.9 129.4,456.7 129.8,457.5 130.1,458.2 130.5,459 130.9,459.7 131.2,460.4 131.6,461 132,461.6 132.4,462.2 132.7,462.7 133.1,463.3 133.5,463.8 133.8,464.3 134.2,464.8 134.6,465.2 134.9,465.7 135.3,466.1 135.7,466.4 136,466.7 136.4,467 136.8,467.3 137.2,467.5 137.5,467.7 137.9,468 138.3,468.2 138.6,468.4 139,468.6 139.4,468.8 139.7,469 140.1,469.2 140.5,469.3 140.9,469.5 141.2,469.6 141.6,469.7 142,469.7 142.3,469.8 142.7,469.8" fill="none" stroke="#ff00ff" stroke-width="4.6" stroke-linejoin="round"/>
<g fill="#fff">
<circle cx="121.8" cy="436.4" r="0.8"/>
<circle cx="122.7" cy="438.2" r="0.8"/>
<circle cx="123.3" cy="440.2" r="0.8"/>
<circle cx="123.9" cy="442.1" r="0.8"/>
<circle cx="124.5" cy="444.1" r="0.8"/>
<circle cx="125.2" cy="446" r="0.8"/>
<circle cx="125.8" cy="448" r="0.8"/>
<circle cx="126.5" cy="449.9" r="0.8"/>
<circle cx="127.3" cy="451.8" r="0.8"/>
<circle cx="128.1" cy="453.7" r="0.8"/>
<circle cx="128.9" cy="455.6" r="0.8"/>
<circle cx="129.7" cy="457.4" r="0.8"/>
<circle cx="130.7" cy="459.3" r="0.8"/>
<circle cx="131.7" cy="461.1" r="0.8"/>
<circle cx="132.8" cy="462.8" r="0.8"/>
<circle cx="134" cy="464.5" r="0.8"/>
</g>
<polyline points="56.5,374.8 57.2,375 57.9,375.1 58.7,375.3 59.4,375.5 60.1,375.6 60.8,375.8 61.6,376 62.3,376.2 63,376.3 63.7,376.5 64.5,376.7 65.2,376.9 65.9,377.1 66.6,377.3 67.4,377.6 68.1,377.8 68.8,378 69.5,378.3 70.3,378.5 71,378.8 71.7,379 72.4,379.3 73.2,379.6 73.9,379.9 74.6,380.2 75.3,380.5 76.1,380.8 76.8,381.2 77.5,381.5 78.2,381.9 79,382.2 79.7,382.6 80.4,383 81.1,383.4 81.9,383.8 82.6,384.2 83.3,384.7 84,385.1 84.8,385.5 85.5,385.9 86.2,386.3 86.9,386.7 87.6,387.1 88.4,387.5 89.1,387.9 89.8,388.2 90.5,388.6 91.3,389 92,389.4 92.7,389.8 93.4,390.1 94.2,390.5 94.9,391 95.6,391.4 96.3,391.8 97.1,392.2 97.8,392.7 98.5,393.1 99.2,393.6 100,394.1 100.7,394.6 101.4,395.1 102.1,395.7 102.9,396.2 103.6,396.8 104.3,397.4 105,398 105.8,398.7 106.5,399.3 107.2,400 107.9,400.7 108.7,401.4 109.4,402.1 110.1,402.8 110.8,403.5 111.6,404.2 112.3,405 113,405.8 113.7,406.5 114.4,407.3 115.2,408.1 115.9,408.9 116.6,409.7 117.3,410.5 118.1,411.3 118.8,412.2 119.5,413 120.2,413.9 121,414.7 121.7,415.6 122.4,416.4 123.1,417.3 123.9,418.2 124.6,419.1 125.3,419.9 126,420.8 126.8,421.7 127.5,422.5 128.2,423.4 128.9,424.2 129.7,425.1 130.4,425.9 131.1,426.7 131.8,427.5 132.6,428.3 133.3,429.1 134,429.9 134.7,430.6 135.5,431.4 136.2,432.2 136.9,432.9 137.6,433.7 138.4,434.4 139.1,435.2 139.8,436 140.5,436.7 141.3,437.5 142,438.2 142.7,439" fill="none" stroke="#00ffff" stroke-width="4.6" stroke-linejoin="round"/>
<polyline points="61.2,390.2 61.7,390.2 62.2,390.2 62.7,390.1 63.3,390.1 63.8,390 64.3,390 64.8,390 65.3,389.9 65.8,389.8 66.3,389.8 66.8,389.7 67.4,389.7 67.9,389.6 68.4,389.5 68.9,389.5 69.4,389.4 69.9,389.3 70.4,389.2 70.9,389.2 71.5,389.1 72,389 72.5,389 73,388.9 73.5,388.8 74,388.8 74.5,388.7 75,388.7 75.6,388.6 76.1,388.6 76.6,388.5 77.1,388.5 77.6,388.5 78.1,388.4 78.6,388.4 79.1,388.4 79.7,388.5 80.2,388.5 80.7,388.6 81.2,388.7 81.7,388.8 82.2,389 82.7,389.2 83.2,389.4 83.8,389.6 84.3,389.9 84.8,390.1 85.3,390.3 85.8,390.6 86.3,390.8 86.8,391 87.3,391.2 87.9,391.5 88.4,391.7 88.9,391.9 89.4,392.2 89.9,392.4 90.4,392.6 90.9,392.8 91.4,393.1 92,393.3 92.5,393.6 93,393.8 93.5,394.1 94,394.4 94.5,394.6 95,394.9 95.5,395.2 96.1,395.5 96.6,395.8 97.1,396.1 97.6,396.4 98.1,396.8 98.6,397.1 99.1,397.4 99.6,397.8 100.2,398.2 100.7,398.5 101.2,398.9 101.7,399.3 102.2,399.7 102.7,400.1 103.2,400.6 103.7,401 104.3,401.4 104.8,401.9 105.3,402.3 105.8,402.8 106.3,403.3 106.8,403.8 107.3,404.3 107.8,404.8 108.4,405.3 108.9,405.8 109.4,406.4 109.9,406.9 110.4,407.5 110.9,408 111.4,408.6 111.9,409.2 112.5,409.8 113,410.4 113.5,411 114,411.6 114.5,412.2 115,412.8 115.5,413.5 116,414.1 116.6,414.8 117.1,415.4 117.6,416.1 118.1,416.8 118.6,417.4 119.1,418.1 119.6,418.8 120.1,419.5 120.7,420.2 121.2,421 121.7,421.7 122.2,422.4 122.7,423.1 123.2,423.9 123.7,424.6 124.2,425.4 124.8,426.1 125.3,426.9 125.8,427.7 126.3,428.4 126.8,429.2 127.3,430 127.8,430.7 128.3,431.5 128.9,432.3 129.4,433.1 129.9,433.8 130.4,434.6 130.9,435.4 131.4,436.2 131.9,436.9 132.4,437.7 133,438.5 133.5,439.3 134,440 134.5,440.8 135,441.6 135.5,442.3 136,443.1 136.5,443.9 137.1,444.7 137.6,445.4 138.1,446.2 138.6,446.9 139.1,447.7 139.6,448.5 140.1,449.2 140.6,450 141.2,450.7 141.7,451.5 142.2,452.3 142.7,453" fill="none" stroke="#0000ff" stroke-width="4.6" stroke-linejoin="round"/>
<g fill="#9c9cff">
<circle cx="120.4" cy="419.8" r="0.55"/>
<circle cx="121.7" cy="421.7" r="0.55"/>
<circle cx="123" cy="423.6" r="0.55"/>
<circle cx="124.3" cy="425.5" r="0.55"/>
<circle cx="125.6" cy="427.4" r="0.55"/>
<circle cx="126.9" cy="429.3" r="0.55"/>
<circle cx="128.2" cy="431.2" r="0.55"/>
<circle cx="129.4" cy="433.1" r="0.55"/>
<circle cx="130.7" cy="435" r="0.55"/>
<circle cx="132" cy="437" r="0.55"/>
<circle cx="133.2" cy="438.9" r="0.55"/>
<circle cx="134.5" cy="440.8" r="0.55"/>
<circle cx="135.8" cy="442.7" r="0.55"/>
<circle cx="137" cy="444.6" r="0.55"/>
<circle cx="138.3" cy="446.5" r="0.55"/>
<circle cx="139.6" cy="448.5" r="0.55"/>
<circle cx="140.9" cy="450.4" r="0.55"/>
</g>
<circle cx="142.3" cy="452.4" r="0.9" fill="#fff"/>
<polyline points="62.1,407.7 62.7,407.7 63.4,407.8 64,407.8 64.6,407.8 65.3,407.8 65.9,407.8 66.5,407.8 67.1,407.8 67.8,407.8 68.4,407.8 69,407.8 69.7,407.8 70.3,407.8 70.9,407.8 71.6,407.7 72.2,407.7 72.8,407.7 73.4,407.6 74.1,407.5 74.7,407.5 75.3,407.4 76,407.3 76.6,407.2 77.2,407.1 77.9,407 78.5,406.9 79.1,406.8 79.8,406.6 80.4,406.5 81,406.4 81.6,406.2 82.3,406 82.9,405.9 83.5,405.7 84.2,405.5 84.8,405.4 85.4,405.2 86.1,405 86.7,404.8 87.3,404.6 88,404.4 88.6,404.3 89.2,404.1 89.8,403.9 90.5,403.7 91.1,403.5 91.7,403.3 92.4,403.1 93,402.9 93.6,402.8 94.3,402.6 94.9,402.4 95.5,402.2 96.1,402 96.8,401.9 97.4,401.7 98,401.5 98.7,401.4 99.3,401.2 99.7,401.3 100.2,401.5 100.6,401.6 101.1,401.9 101.5,402.1 101.9,402.4 102.4,402.7 102.8,403 103.2,403.4 103.7,403.8 104.1,404.2 104.6,404.6 105,405 105.4,405.4 105.9,405.9 106.3,406.3 106.8,406.8 107.2,407.2 107.6,407.7 108.1,408.2 108.5,408.6 108.9,409.1 109.4,409.6 109.8,410.1 110.3,410.6 110.7,411.2 111.1,411.7 111.6,412.2 112,412.8 112.5,413.4 112.9,413.9 113.3,414.5 113.8,415.1 114.2,415.7 114.6,416.4 115.1,417 115.5,417.6 116,418.3 116.4,418.9 116.8,419.6 117.3,420.3 117.7,421 118.2,421.7 118.6,422.4 119,423.1 119.5,423.8 119.9,424.5 120.3,425.2 120.8,425.9 121.2,426.7 121.7,427.4 122.1,428.1 122.5,428.9 123,429.6 123.4,430.4 123.8,431.2 124.3,431.9 124.7,432.7 125.2,433.4 125.6,434.2 126,434.9 126.5,435.7 126.9,436.4 127.4,437.2 127.8,438 128.2,438.7 128.7,439.4 129.1,440.2 129.5,440.9 130,441.6 130.4,442.4 130.9,443.1 131.3,443.8 131.7,444.5 132.2,445.2 132.6,445.9 133.1,446.6 133.5,447.3 133.9,447.9 134.4,448.6 134.8,449.3 135.2,449.9 135.7,450.6 136.1,451.2 136.6,451.9 137,452.5 137.4,453.1 137.9,453.7 138.3,454.3 138.8,454.9 139.2,455.5 139.6,456.1 140.1,456.7 140.5,457.3 140.9,457.8 141.4,458.4 141.8,458.9 142.3,459.5 142.7,460" fill="none" stroke="#008000" stroke-width="4.3" stroke-linejoin="round"/>
</g>
<rect x="35.8" y="323.9" width="114.2" height="151.1" fill="none" stroke="#000" stroke-width="1.3"/>
<text x="39.6" y="336.9" font-size="10.3" >(c)</text>
<text x="38.4" y="352.9" font-size="10.3" >ZFC:</text>
<text x="41.8" y="377.6" font-size="10.5" fill="#00ffff" >1T</text>
<text x="39" y="393.8" font-size="10.5" fill="#0000ff" >0.5T</text>
<text x="40" y="411.5" font-size="10.5" fill="#008000" >0.3T</text>
<text x="39.9" y="440.5" font-size="10.5" fill="#ff00ff" >0.1 T</text>
<text x="40.7" y="457.3" font-size="10.5" >500G</text>
<line x1="35.8" y1="449.6" x2="38.3" y2="449.6" stroke="#000" stroke-width="1.1" />
<line x1="35.8" y1="424.5" x2="40.8" y2="424.5" stroke="#000" stroke-width="1.1" />
<line x1="35.8" y1="399.4" x2="38.3" y2="399.4" stroke="#000" stroke-width="1.1" />
<line x1="35.8" y1="374.3" x2="40.8" y2="374.3" stroke="#000" stroke-width="1.1" />
<line x1="35.8" y1="349.2" x2="38.3" y2="349.2" stroke="#000" stroke-width="1.1" />
<text x="30.8" y="478.8" font-size="11.7" text-anchor="end" >0</text>
<text x="30.8" y="428.6" font-size="11.7" text-anchor="end" >2</text>
<text x="30.8" y="378.4" font-size="11.7" text-anchor="end" >4</text>
<text x="30.8" y="328.2" font-size="11.7" text-anchor="end" >6</text>
<line x1="49.2" y1="475" x2="49.2" y2="470" stroke="#000" stroke-width="1.1" />
<text x="49.2" y="487.2" font-size="11.3" text-anchor="middle" >0</text>
<line x1="62.4" y1="475" x2="62.4" y2="472.5" stroke="#000" stroke-width="1.1" />
<line x1="75.6" y1="475" x2="75.6" y2="470" stroke="#000" stroke-width="1.1" />
<text x="75.6" y="487.2" font-size="11.3" text-anchor="middle" >10</text>
<line x1="88.8" y1="475" x2="88.8" y2="472.5" stroke="#000" stroke-width="1.1" />
<line x1="102.1" y1="475" x2="102.1" y2="470" stroke="#000" stroke-width="1.1" />
<text x="102.1" y="487.2" font-size="11.3" text-anchor="middle" >20</text>
<line x1="115.3" y1="475" x2="115.3" y2="472.5" stroke="#000" stroke-width="1.1" />
<line x1="128.5" y1="475" x2="128.5" y2="470" stroke="#000" stroke-width="1.1" />
<text x="128.5" y="487.2" font-size="11.3" text-anchor="middle" >30</text>
<line x1="141.7" y1="475" x2="141.7" y2="472.5" stroke="#000" stroke-width="1.1" />
<text x="94.7" y="500.8" font-size="12" text-anchor="middle" >T (K)</text>
<text transform="translate(11.9,399) rotate(-90)" font-size="11.8" text-anchor="middle" fill="#000">M<tspan font-size="7.5" dy="4">dc</tspan><tspan dy="-4"> (10</tspan><tspan font-size="7" dy="-4.5">4</tspan><tspan dy="4.5"> emu/mol)</tspan></text>
<rect x="112.3" y="323.9" width="37.7" height="44.2" fill="#fff" stroke="#000" stroke-width="1.3"/>
<clipPath id="ci"><rect x="112.3" y="323.9" width="37.7" height="44.2"/></clipPath><g clip-path="url(#ci)">
<line x1="112.3" y1="330.9" x2="150.1" y2="366.8" stroke="#ff0000" stroke-width="1.9" />
<g fill="#ff8080" stroke="#ff0000" stroke-width="1.9">
<circle cx="114.6" cy="333.8" r="2.2"/>
<circle cx="118.8" cy="336.7" r="2.2"/>
<circle cx="131.3" cy="350.4" r="2.2"/>
<circle cx="143.5" cy="362.3" r="2.2"/>
</g>
</g>
<line x1="112.3" y1="365" x2="116.8" y2="365" stroke="#000" stroke-width="1.1" />
<text x="108" y="368.9" font-size="11" text-anchor="end" >10</text>
<line x1="112.3" y1="356.6" x2="114.6" y2="356.6" stroke="#000" stroke-width="1.1" />
<line x1="112.3" y1="348.2" x2="116.8" y2="348.2" stroke="#000" stroke-width="1.1" />
<text x="108" y="352.1" font-size="11" text-anchor="end" >20</text>
<line x1="112.3" y1="339.8" x2="114.6" y2="339.8" stroke="#000" stroke-width="1.1" />
<line x1="112.3" y1="331.4" x2="116.8" y2="331.4" stroke="#000" stroke-width="1.1" />
<text x="108" y="335.3" font-size="11" text-anchor="end" >30</text>
<line x1="124.8" y1="368.1" x2="124.8" y2="365.6" stroke="#000" stroke-width="1.1" />
<line x1="137.3" y1="368.1" x2="137.3" y2="363.3" stroke="#000" stroke-width="1.1" />
<text x="112.8" y="383.3" font-size="11" text-anchor="middle" >0.0</text>
<text x="137.8" y="383.3" font-size="11" text-anchor="middle" >0.4</text>
<text x="112.8" y="396" font-size="11.8" >μ<tspan font-size="7" dy="2.5">0</tspan><tspan dy="-2.5">H (T)</tspan></text>
<text transform="translate(87.4,344) rotate(-90)" font-size="11.8" text-anchor="middle" fill="#000">T<tspan font-size="7" dy="2.5">1</tspan><tspan dy="-2.5"> (K)</tspan></text>
<line x1="164.3" y1="111.6" x2="269.3" y2="111.6" stroke="#999" stroke-width="1.3" stroke-dasharray="4,2.5"/>
<clipPath id="cd"><rect x="164.3" y="70" width="105" height="57.5"/></clipPath><g clip-path="url(#cd)">
<g fill="#008000">
<path d="M164.3,80.8L162.8,83.5H165.8Z"/>
<path d="M165.2,80.3L163.7,83H166.7Z"/>
<path d="M166.1,80.8L164.6,83.5H167.6Z"/>
<path d="M167,81.2L165.5,83.9H168.5Z"/>
<path d="M167.9,80.5L166.4,83.2H169.4Z"/>
<path d="M168.7,81.4L167.2,84.1H170.3Z"/>
<path d="M169.6,81.6L168.1,84.3H171.1Z"/>
<path d="M170.5,81.7L169,84.4H172Z"/>
<path d="M171.4,82.2L169.9,84.9H172.9Z"/>
<path d="M172.3,81.9L170.8,84.6H173.8Z"/>
<path d="M173.2,81L171.7,83.7H174.7Z"/>
<path d="M174.1,82.3L172.6,85H175.6Z"/>
<path d="M175,82L173.5,84.7H176.5Z"/>
<path d="M175.9,82.7L174.4,85.4H177.4Z"/>
<path d="M176.8,82.6L175.3,85.3H178.3Z"/>
<path d="M177.6,81.8L176.1,84.5H179.2Z"/>
<path d="M178.5,82.2L177,84.9H180Z"/>
<path d="M179.4,83L177.9,85.7H180.9Z"/>
<path d="M180.3,82.9L178.8,85.6H181.8Z"/>
<path d="M181.2,83.4L179.7,86.1H182.7Z"/>
<path d="M182.1,83.5L180.6,86.2H183.6Z"/>
<path d="M183,83.7L181.5,86.4H184.5Z"/>
<path d="M183.9,83.9L182.4,86.6H185.4Z"/>
<path d="M184.8,83.5L183.3,86.2H186.3Z"/>
<path d="M185.7,83.5L184.2,86.2H187.2Z"/>
<path d="M186.5,83.8L185,86.5H188.1Z"/>
<path d="M187.4,84.4L185.9,87.1H188.9Z"/>
<path d="M188.3,85.2L186.8,87.9H189.8Z"/>
<path d="M189.2,84.8L187.7,87.5H190.7Z"/>
<path d="M190.1,85.4L188.6,88.1H191.6Z"/>
<path d="M191,84.9L189.5,87.6H192.5Z"/>
<path d="M191.9,85.3L190.4,88H193.4Z"/>
<path d="M192.8,85.4L191.3,88.1H194.3Z"/>
<path d="M193.7,86.2L192.2,88.9H195.2Z"/>
<path d="M194.6,87.1L193.1,89.8H196.1Z"/>
<path d="M195.4,86L193.9,88.8H197Z"/>
<path d="M196.3,86.2L194.8,88.9H197.8Z"/>
<path d="M197.2,87.7L195.7,90.4H198.7Z"/>
<path d="M198.1,87.3L196.6,90H199.6Z"/>
<path d="M199,87.1L197.5,89.8H200.5Z"/>
<path d="M199.9,88.5L198.4,91.2H201.4Z"/>
<path d="M200.8,87.5L199.3,90.2H202.3Z"/>
<path d="M201.7,88.7L200.2,91.4H203.2Z"/>
<path d="M202.6,89.4L201.1,92.1H204.1Z"/>
<path d="M203.5,88.6L201.9,91.3H205Z"/>
<path d="M204.3,89.3L202.8,92.1H205.9Z"/>
<path d="M205.2,90.1L203.7,92.8H206.7Z"/>
<path d="M206.1,89.7L204.6,92.4H207.6Z"/>
<path d="M207,91.3L205.5,94H208.5Z"/>
<path d="M207.9,90L206.4,92.7H209.4Z"/>
<path d="M208.8,91.5L207.3,94.2H210.3Z"/>
<path d="M209.7,91.4L208.2,94.1H211.2Z"/>
<path d="M210.6,92L209.1,94.7H212.1Z"/>
<path d="M211.5,92L210,94.7H213Z"/>
<path d="M212.4,92.2L210.8,94.9H213.9Z"/>
<path d="M213.2,93.3L211.7,96H214.8Z"/>
<path d="M214.1,92.9L212.6,95.6H215.6Z"/>
<path d="M215,93.8L213.5,96.5H216.5Z"/>
<path d="M215.9,94.3L214.4,97H217.4Z"/>
<path d="M216.8,94.5L215.3,97.2H218.3Z"/>
<path d="M217.7,95.2L216.2,97.9H219.2Z"/>
<path d="M218.6,95.5L217.1,98.2H220.1Z"/>
<path d="M219.5,95.1L218,97.9H221Z"/>
<path d="M220.4,96.1L218.9,98.8H221.9Z"/>
<path d="M221.3,95.9L219.7,98.6H222.8Z"/>
<path d="M222.1,96.6L220.6,99.3H223.7Z"/>
<path d="M223,97.7L221.5,100.4H224.5Z"/>
<path d="M223.9,98.5L222.4,101.2H225.4Z"/>
<path d="M224.8,98.3L223.3,101H226.3Z"/>
<path d="M225.7,98.3L224.2,101H227.2Z"/>
<path d="M226.6,98.8L225.1,101.5H228.1Z"/>
<path d="M227.5,99.6L226,102.3H229Z"/>
<path d="M228.4,99.3L226.9,102H229.9Z"/>
<path d="M229.3,101L227.8,103.7H230.8Z"/>
<path d="M230.2,101.3L228.6,104H231.7Z"/>
<path d="M231,101.1L229.5,103.8H232.6Z"/>
<path d="M231.9,100.6L230.4,103.3H233.4Z"/>
<path d="M232.8,101.9L231.3,104.6H234.3Z"/>
<path d="M233.7,103.1L232.2,105.8H235.2Z"/>
<path d="M234.6,102.8L233.1,105.5H236.1Z"/>
<path d="M235.5,103.2L234,105.9H237Z"/>
<path d="M236.4,103.6L234.9,106.3H237.9Z"/>
<path d="M237.3,104.7L235.8,107.4H238.8Z"/>
<path d="M238.2,105.3L236.7,108H239.7Z"/>
<path d="M239.1,105.3L237.5,108H240.6Z"/>
<path d="M239.9,105.6L238.4,108.3H241.5Z"/>
<path d="M240.8,105.5L239.3,108.2H242.3Z"/>
<path d="M241.7,105.7L240.2,108.4H243.2Z"/>
<path d="M242.6,107.4L241.1,110.1H244.1Z"/>
<path d="M243.5,107.8L242,110.5H245Z"/>
<path d="M244.4,108L242.9,110.7H245.9Z"/>
<path d="M245.3,108.5L243.8,111.2H246.8Z"/>
<path d="M246.2,108.6L244.7,111.3H247.7Z"/>
<path d="M247.1,109L245.6,111.7H248.6Z"/>
<path d="M248,109.6L246.4,112.3H249.5Z"/>
</g>
<g fill="#fff" stroke="#ff00ff" stroke-width="0.8">
<circle cx="164.3" cy="118.3" r="1.85"/>
<circle cx="166.9" cy="118.7" r="1.85"/>
<circle cx="169.5" cy="118.9" r="1.85"/>
<circle cx="172.2" cy="119" r="1.85"/>
<circle cx="174.8" cy="118.8" r="1.85"/>
<circle cx="177.4" cy="118.8" r="1.85"/>
<circle cx="180" cy="119" r="1.85"/>
<circle cx="182.6" cy="118.3" r="1.85"/>
<circle cx="185.2" cy="118.4" r="1.85"/>
<circle cx="187.9" cy="118.5" r="1.85"/>
<circle cx="190.5" cy="118.5" r="1.85"/>
<circle cx="193.1" cy="118.6" r="1.85"/>
<circle cx="195.7" cy="118.3" r="1.85"/>
<circle cx="198.3" cy="117.5" r="1.85"/>
<circle cx="200.9" cy="118.5" r="1.85"/>
<circle cx="203.6" cy="117.8" r="1.85"/>
<circle cx="206.2" cy="117.5" r="1.85"/>
<circle cx="208.8" cy="117.6" r="1.85"/>
<circle cx="211.4" cy="117.5" r="1.85"/>
<circle cx="214" cy="117.1" r="1.85"/>
<circle cx="216.7" cy="117.5" r="1.85"/>
<circle cx="219.3" cy="116.9" r="1.85"/>
<circle cx="221.9" cy="116.5" r="1.85"/>
<circle cx="224.5" cy="117" r="1.85"/>
<circle cx="227.1" cy="116.8" r="1.85"/>
<circle cx="229.7" cy="116.2" r="1.85"/>
<circle cx="232.4" cy="115.7" r="1.85"/>
<circle cx="235" cy="115.2" r="1.85"/>
<circle cx="237.6" cy="115.1" r="1.85"/>
<circle cx="240.2" cy="114.7" r="1.85"/>
<circle cx="242.8" cy="114.1" r="1.85"/>
<circle cx="245.4" cy="113" r="1.85"/>
<circle cx="248.1" cy="112.2" r="1.85"/>
<circle cx="250.7" cy="112" r="1.85"/>
<circle cx="253.3" cy="111" r="1.85"/>
<circle cx="255.9" cy="111" r="1.85"/>
<circle cx="258.5" cy="110.9" r="1.85"/>
<circle cx="261.1" cy="112.6" r="1.85"/>
<circle cx="263.8" cy="111.6" r="1.85"/>
<circle cx="266.4" cy="111.1" r="1.85"/>
<circle cx="269" cy="109.9" r="1.85"/>
</g>
</g>
<rect x="164.3" y="70" width="105" height="57.5" fill="none" stroke="#000" stroke-width="1.3"/>
<text x="168.5" y="80.4" font-size="10" >(d)</text>
<text x="190.6" y="81.4" font-size="10.6" fill="#008000" >FCC-ZFC</text>
<text x="243.8" y="79.8" font-size="10.3" >2 G</text>
<text x="176.8" y="109.1" font-size="10.6" fill="#ff00ff" >FCH-FCC</text>
<line x1="185.2" y1="127.5" x2="185.2" y2="125" stroke="#000" stroke-width="1.1" />
<line x1="206.2" y1="127.5" x2="206.2" y2="122.5" stroke="#000" stroke-width="1.1" />
<line x1="227.1" y1="127.5" x2="227.1" y2="125" stroke="#000" stroke-width="1.1" />
<line x1="248.1" y1="127.5" x2="248.1" y2="122.5" stroke="#000" stroke-width="1.1" />
<text x="164.3" y="140.2" font-size="11.3" text-anchor="middle" >20</text>
<text x="206.2" y="140.2" font-size="11.3" text-anchor="middle" >24</text>
<text x="248.1" y="140.2" font-size="11.3" text-anchor="middle" >28</text>
<text x="218.8" y="153.5" font-size="12" text-anchor="middle" >T (K)</text>
<line x1="269.3" y1="125.2" x2="266.8" y2="125.2" stroke="#000" stroke-width="1.1" />
<line x1="269.3" y1="111.6" x2="264.3" y2="111.6" stroke="#000" stroke-width="1.1" />
<line x1="269.3" y1="97.9" x2="266.8" y2="97.9" stroke="#000" stroke-width="1.1" />
<line x1="269.3" y1="84.3" x2="264.3" y2="84.3" stroke="#000" stroke-width="1.1" />
<text x="273.2" y="88.2" font-size="11.5" >6</text>
<text x="273.2" y="115.5" font-size="11.5" >0</text>
<text transform="translate(292.4,99.6) rotate(90)" font-size="12.3" text-anchor="middle" fill="#000">(emu/mol)</text>
<text transform="translate(310.8,90.6) rotate(90)" font-size="10">Δ</text>
<text transform="translate(310.8,97.2) rotate(90)" font-size="12" font-family="Liberation Serif, serif">χ</text>
<text transform="translate(306.0,104.0) rotate(90)" font-size="7" letter-spacing="0.4">dc</text>
<clipPath id="ce"><rect x="164.3" y="167.5" width="105" height="57.5"/></clipPath><g clip-path="url(#ce)">
<polyline points="166.4,218.5 167,216.4 167.6,214.2 168.3,215.8 168.9,214.8 169.5,213.7 170.1,214.7 170.7,212.4 171.4,213.2 172,210.3 172.6,209.7 173.2,209.7 173.9,210.2 174.5,207.1 175.1,207.9 175.7,207.4 176.3,206.2 177,208.6 177.6,205.1 178.2,203.6 178.8,204 179.4,203.8 180.1,205.1 180.7,201.7 181.3,202 181.9,201.8 182.5,202.5 183.2,199 183.8,197.6 184.4,199 185,197.4 185.7,196 186.3,195 186.9,197.6 187.5,198.1 188.1,198.1 188.8,196.8 189.4,195.2 190,193.9 190.6,196.5 191.2,194.9 191.9,197 192.5,191.7 193.1,194.9 193.7,192.9 194.3,194.9 195,193.7 195.6,194.2 196.2,188.6 196.8,191.2 197.4,192.1 198.1,193.5 198.7,192.4 199.3,189.5 199.9,186.8 200.6,193.4 201.2,191.9 201.8,190 202.4,190.8 203,192.8 203.7,188.8 204.3,186.9 204.9,191.8 205.5,187.6 206.1,185.7 206.8,185.5 207.4,188.3 208,182.1 208.6,185.7 209.2,188.5 209.9,184.3 210.5,188.8 211.1,184.1 211.7,188.7 212.4,183.9 213,186.8 213.6,182.8 214.2,183.5 214.8,183.9 215.5,184.6 216.1,182.2 216.7,188.4 217.3,183.3 217.9,183.1 218.6,182.7 219.2,181.9 219.8,175.4 220.4,183.2 221,181.5 221.7,182.8 222.3,179.5 222.9,187.3 223.5,179 224.2,184.1 224.8,187.4 225.4,184.7 226,182.5 226.6,181.6 227.3,182 227.9,180 228.5,181.7 229.1,181.7 229.7,186.2 230.4,180.3 231,179 231.6,182 232.2,185.1 232.8,183.8 233.5,177.1 234.1,182 234.7,182.1 235.3,182.3 236,178.9 236.6,181.6 237.2,182.1 237.8,183.4 238.4,180.3 239.1,177.8 239.7,180.2 240.3,177.9 240.9,179.3 241.5,179.3 242.2,179.2 242.8,179.4 243.4,177.1 244,178.3 244.6,180.5 245.3,178.9 245.9,179.3 246.5,178 247.1,178.6 247.8,178 248.4,182.1 249,178 249.6,175.8 250.2,181.6 250.9,175.1 251.5,177.9 252.1,179 252.7,182.4 253.3,176 254,180.5 254.6,179.4 255.2,177 255.8,180.4 256.4,180.3 257.1,180.6 257.7,178.3 258.3,176.7 258.9,177.1 259.6,177 260.2,178.6 260.8,177.5 261.4,179.3 262,173.3 262.7,177.3 263.3,181.9 263.9,180 264.5,174 265.1,180.5 265.8,178.5 266.4,176.6 267,179.8 267.6,175 268.2,173.7 268.9,179.1 269.5,174.8" fill="none" stroke="#00ffff" stroke-width="1.8" />
<g fill="#00ffff">
<circle cx="166.4" cy="218.5" r="1.5"/>
<circle cx="167.6" cy="214.2" r="1.5"/>
<circle cx="168.9" cy="214.8" r="1.5"/>
<circle cx="170.1" cy="214.7" r="1.5"/>
<circle cx="171.4" cy="213.2" r="1.5"/>
<circle cx="172.6" cy="209.7" r="1.5"/>
<circle cx="173.9" cy="210.2" r="1.5"/>
<circle cx="175.1" cy="207.9" r="1.5"/>
<circle cx="176.3" cy="206.2" r="1.5"/>
<circle cx="177.6" cy="205.1" r="1.5"/>
<circle cx="178.8" cy="204" r="1.5"/>
<circle cx="180.1" cy="205.1" r="1.5"/>
<circle cx="181.3" cy="202" r="1.5"/>
<circle cx="182.5" cy="202.5" r="1.5"/>
<circle cx="183.8" cy="197.6" r="1.5"/>
<circle cx="185" cy="197.4" r="1.5"/>
<circle cx="186.3" cy="195" r="1.5"/>
<circle cx="187.5" cy="198.1" r="1.5"/>
<circle cx="188.8" cy="196.8" r="1.5"/>
<circle cx="190" cy="193.9" r="1.5"/>
<circle cx="191.2" cy="194.9" r="1.5"/>
<circle cx="192.5" cy="191.7" r="1.5"/>
<circle cx="193.7" cy="192.9" r="1.5"/>
<circle cx="195" cy="193.7" r="1.5"/>
<circle cx="196.2" cy="188.6" r="1.5"/>
<circle cx="197.4" cy="192.1" r="1.5"/>
<circle cx="198.7" cy="192.4" r="1.5"/>
<circle cx="199.9" cy="186.8" r="1.5"/>
<circle cx="201.2" cy="191.9" r="1.5"/>
<circle cx="202.4" cy="190.8" r="1.5"/>
<circle cx="203.7" cy="188.8" r="1.5"/>
<circle cx="204.9" cy="191.8" r="1.5"/>
<circle cx="206.1" cy="185.7" r="1.5"/>
<circle cx="207.4" cy="188.3" r="1.5"/>
<circle cx="208.6" cy="185.7" r="1.5"/>
<circle cx="209.9" cy="184.3" r="1.5"/>
<circle cx="211.1" cy="184.1" r="1.5"/>
<circle cx="212.4" cy="183.9" r="1.5"/>
<circle cx="213.6" cy="182.8" r="1.5"/>
<circle cx="214.8" cy="183.9" r="1.5"/>
<circle cx="216.1" cy="182.2" r="1.5"/>
<circle cx="217.3" cy="183.3" r="1.5"/>
<circle cx="218.6" cy="182.7" r="1.5"/>
<circle cx="219.8" cy="175.4" r="1.5"/>
<circle cx="221" cy="181.5" r="1.5"/>
<circle cx="222.3" cy="179.5" r="1.5"/>
<circle cx="223.5" cy="179" r="1.5"/>
<circle cx="224.8" cy="187.4" r="1.5"/>
<circle cx="226" cy="182.5" r="1.5"/>
<circle cx="227.3" cy="182" r="1.5"/>
<circle cx="228.5" cy="181.7" r="1.5"/>
<circle cx="229.7" cy="186.2" r="1.5"/>
<circle cx="231" cy="179" r="1.5"/>
<circle cx="232.2" cy="185.1" r="1.5"/>
<circle cx="233.5" cy="177.1" r="1.5"/>
<circle cx="234.7" cy="182.1" r="1.5"/>
<circle cx="236" cy="178.9" r="1.5"/>
<circle cx="237.2" cy="182.1" r="1.5"/>
<circle cx="238.4" cy="180.3" r="1.5"/>
<circle cx="239.7" cy="180.2" r="1.5"/>
<circle cx="240.9" cy="179.3" r="1.5"/>
<circle cx="242.2" cy="179.2" r="1.5"/>
<circle cx="243.4" cy="177.1" r="1.5"/>
<circle cx="244.6" cy="180.5" r="1.5"/>
<circle cx="245.9" cy="179.3" r="1.5"/>
<circle cx="247.1" cy="178.6" r="1.5"/>
<circle cx="248.4" cy="182.1" r="1.5"/>
<circle cx="249.6" cy="175.8" r="1.5"/>
<circle cx="250.9" cy="175.1" r="1.5"/>
<circle cx="252.1" cy="179" r="1.5"/>
<circle cx="253.3" cy="176" r="1.5"/>
<circle cx="254.6" cy="179.4" r="1.5"/>
<circle cx="255.8" cy="180.4" r="1.5"/>
<circle cx="257.1" cy="180.6" r="1.5"/>
<circle cx="258.3" cy="176.7" r="1.5"/>
<circle cx="259.6" cy="177" r="1.5"/>
<circle cx="260.8" cy="177.5" r="1.5"/>
<circle cx="262" cy="173.3" r="1.5"/>
<circle cx="263.3" cy="181.9" r="1.5"/>
<circle cx="264.5" cy="174" r="1.5"/>
<circle cx="265.8" cy="178.5" r="1.5"/>
<circle cx="267" cy="179.8" r="1.5"/>
<circle cx="268.2" cy="173.7" r="1.5"/>
<circle cx="269.5" cy="174.8" r="1.5"/>
</g>
<polyline points="166.4,218.4 167.8,216.6 169.2,214.9 170.5,213.2 171.9,211.6 173.3,210.1 174.7,208.6 176.1,207.2 177.4,205.8 178.8,204.6 180.2,203.3 181.6,202.2 183,201 184.3,199.9 185.7,198.9 187.1,197.9 188.5,197 189.9,196.1 191.2,195.2 192.6,194.4 194,193.6 195.4,192.8 196.8,192.1 198.1,191.4 199.5,190.7 200.9,190.1 202.3,189.4 203.7,188.9 205,188.3 206.4,187.7 207.8,187.2 209.2,186.7 210.6,186.3 211.9,185.8 213.3,185.4 214.7,185 216.1,184.6 217.5,184.2 218.8,183.8 220.2,183.5 221.6,183.1 223,182.8 224.4,182.5 225.7,182.2 227.1,181.9 228.5,181.7 229.9,181.4 231.3,181.2 232.6,180.9 234,180.7 235.4,180.5 236.8,180.3 238.2,180.1 239.5,179.9 240.9,179.7 242.3,179.5 243.7,179.4 245.1,179.2 246.4,179.1 247.8,178.9 249.2,178.8 250.6,178.6 252,178.5 253.3,178.4 254.7,178.3 256.1,178.2 257.5,178 258.9,177.9 260.2,177.8 261.6,177.8 263,177.7 264.4,177.6 265.8,177.5 267.1,177.4 268.5,177.3 269.9,177.3" fill="none" stroke="#0000ff" stroke-width="1.7" />
<g fill="none" stroke="#ff2a8a" stroke-width="0.7">
<circle cx="166.4" cy="216.3" r="1.4"/>
<circle cx="167.4" cy="215.9" r="1.4"/>
<circle cx="168.5" cy="215.1" r="1.4"/>
<circle cx="169.5" cy="215.1" r="1.4"/>
<circle cx="170.5" cy="215.7" r="1.4"/>
<circle cx="171.6" cy="215.3" r="1.4"/>
<circle cx="172.6" cy="216.9" r="1.4"/>
<circle cx="173.6" cy="217.2" r="1.4"/>
<circle cx="174.7" cy="217.8" r="1.4"/>
<circle cx="175.7" cy="217.3" r="1.4"/>
<circle cx="176.8" cy="217.4" r="1.4"/>
<circle cx="177.8" cy="217.5" r="1.4"/>
<circle cx="178.8" cy="218.2" r="1.4"/>
<circle cx="179.9" cy="217.1" r="1.4"/>
<circle cx="180.9" cy="216.4" r="1.4"/>
<circle cx="181.9" cy="216.9" r="1.4"/>
<circle cx="183" cy="216" r="1.4"/>
<circle cx="184" cy="215" r="1.4"/>
<circle cx="185" cy="214.8" r="1.4"/>
<circle cx="186.1" cy="215.1" r="1.4"/>
<circle cx="187.1" cy="215.3" r="1.4"/>
<circle cx="188.1" cy="215.8" r="1.4"/>
<circle cx="189.2" cy="216.4" r="1.4"/>
<circle cx="190.2" cy="217.1" r="1.4"/>
<circle cx="191.2" cy="217.9" r="1.4"/>
<circle cx="192.3" cy="217.9" r="1.4"/>
<circle cx="193.3" cy="218" r="1.4"/>
<circle cx="194.3" cy="216.6" r="1.4"/>
<circle cx="195.4" cy="217.2" r="1.4"/>
<circle cx="196.4" cy="216.9" r="1.4"/>
<circle cx="197.4" cy="216.5" r="1.4"/>
<circle cx="198.5" cy="215.9" r="1.4"/>
<circle cx="199.5" cy="215.6" r="1.4"/>
<circle cx="200.6" cy="215" r="1.4"/>
<circle cx="201.6" cy="215.2" r="1.4"/>
<circle cx="202.6" cy="215" r="1.4"/>
<circle cx="203.7" cy="216.1" r="1.4"/>
<circle cx="204.7" cy="216.1" r="1.4"/>
<circle cx="205.7" cy="216.3" r="1.4"/>
<circle cx="206.8" cy="217.8" r="1.4"/>
<circle cx="207.8" cy="217.5" r="1.4"/>
<circle cx="208.8" cy="217.7" r="1.4"/>
<circle cx="209.9" cy="217.9" r="1.4"/>
<circle cx="210.9" cy="217.8" r="1.4"/>
<circle cx="211.9" cy="218" r="1.4"/>
<circle cx="213" cy="216.1" r="1.4"/>
<circle cx="214" cy="216.6" r="1.4"/>
<circle cx="215" cy="216.2" r="1.4"/>
<circle cx="216.1" cy="215" r="1.4"/>
<circle cx="217.1" cy="216.1" r="1.4"/>
<circle cx="218.2" cy="214.8" r="1.4"/>
<circle cx="219.2" cy="215.3" r="1.4"/>
<circle cx="220.2" cy="215.7" r="1.4"/>
<circle cx="221.3" cy="216.6" r="1.4"/>
<circle cx="222.3" cy="217.6" r="1.4"/>
<circle cx="223.3" cy="218.4" r="1.4"/>
<circle cx="224.4" cy="217" r="1.4"/>
<circle cx="225.4" cy="218" r="1.4"/>
<circle cx="226.4" cy="217.9" r="1.4"/>
<circle cx="227.5" cy="216.6" r="1.4"/>
<circle cx="228.5" cy="217.2" r="1.4"/>
<circle cx="229.5" cy="216.5" r="1.4"/>
<circle cx="230.6" cy="216" r="1.4"/>
<circle cx="231.6" cy="215.5" r="1.4"/>
<circle cx="232.6" cy="215.7" r="1.4"/>
<circle cx="233.7" cy="215.5" r="1.4"/>
<circle cx="234.7" cy="214.8" r="1.4"/>
</g>
</g>
<rect x="164.3" y="167.5" width="105" height="57.5" fill="none" stroke="#000" stroke-width="1.3"/>
<text x="165.9" y="178.8" font-size="10.75" >(e)2 G, ZFC</text>
<text x="245.3" y="195.9" font-size="9.7" fill="#00ffff" >25K</text>
<text x="238" y="218.5" font-size="9.8" fill="#ff2a8a" >27.5K</text>
<line x1="166.4" y1="225" x2="166.4" y2="220" stroke="#000" stroke-width="1.1" />
<line x1="176.8" y1="225" x2="176.8" y2="222.5" stroke="#000" stroke-width="1.1" />
<line x1="187.1" y1="225" x2="187.1" y2="220" stroke="#000" stroke-width="1.1" />
<line x1="197.4" y1="225" x2="197.4" y2="222.5" stroke="#000" stroke-width="1.1" />
<line x1="207.8" y1="225" x2="207.8" y2="220" stroke="#000" stroke-width="1.1" />
<line x1="218.2" y1="225" x2="218.2" y2="222.5" stroke="#000" stroke-width="1.1" />
<line x1="228.5" y1="225" x2="228.5" y2="220" stroke="#000" stroke-width="1.1" />
<line x1="238.8" y1="225" x2="238.8" y2="222.5" stroke="#000" stroke-width="1.1" />
<line x1="249.2" y1="225" x2="249.2" y2="220" stroke="#000" stroke-width="1.1" />
<line x1="259.6" y1="225" x2="259.6" y2="222.5" stroke="#000" stroke-width="1.1" />
<text x="166.6" y="237.2" font-size="11.3" text-anchor="middle" >0</text>
<text x="187.1" y="237.2" font-size="11.3" text-anchor="middle" >30</text>
<text x="207.8" y="237.2" font-size="11.3" text-anchor="middle" >60</text>
<text x="228.6" y="237.2" font-size="11.3" text-anchor="middle" >90</text>
<text x="248.7" y="237.2" font-size="11.3" text-anchor="middle" >120</text>
<text x="269.3" y="237.2" font-size="11.3" text-anchor="middle" >150</text>
<text x="219.6" y="252" font-size="12" text-anchor="middle" >t (min)</text>
<line x1="269.3" y1="215.9" x2="264.3" y2="215.9" stroke="#000" stroke-width="1.1" />
<line x1="269.3" y1="195.9" x2="266.8" y2="195.9" stroke="#000" stroke-width="1.1" />
<line x1="269.3" y1="175.9" x2="264.3" y2="175.9" stroke="#000" stroke-width="1.1" />
<text x="274.3" y="179.8" font-size="11" >1.01</text>
<text x="274.3" y="219.8" font-size="11" >1.00</text>
<text transform="translate(307.6,172.7) rotate(90)" font-size="12.3" textLength="54.7" lengthAdjust="spacingAndGlyphs" stroke="#000" stroke-width="0.3">M(t) / M(0)</text>
<clipPath id="cf1"><rect x="164.3" y="263.7" width="104.9" height="58.1"/></clipPath><g clip-path="url(#cf1)">
<polyline points="164.6,310.3 169.9,308.9 175.2,307.4 180.5,306 185.8,304.1 191.1,301.9 196.4,300.2 201.7,297.9 207,295.6 212.3,292.1 217.6,289.2 222.9,286 228.2,284.6 233.5,289.2 238.8,295.3 244.1,300.6 249.4,303.6 254.7,304.9 260,305.1 265.3,305.3" fill="none" stroke="#585858" stroke-width="0.7" />
<g fill="#fff" stroke="#585858" stroke-width="0.85">
<path d="M164.6,308L162.5,311.9H166.7Z"/>
<path d="M169.9,306.6L167.8,310.5H172Z"/>
<path d="M175.2,305.1L173.1,308.9H177.3Z"/>
<path d="M180.5,303.7L178.4,307.5H182.6Z"/>
<path d="M185.8,301.8L183.7,305.6H187.9Z"/>
<path d="M191.1,299.6L189,303.5H193.2Z"/>
<path d="M196.4,297.9L194.3,301.7H198.5Z"/>
<path d="M201.7,295.6L199.6,299.4H203.8Z"/>
<path d="M207,293.3L204.9,297.1H209.1Z"/>
<path d="M212.3,289.8L210.2,293.7H214.4Z"/>
<path d="M217.6,286.9L215.5,290.8H219.7Z"/>
<path d="M222.9,283.8L220.8,287.6H225Z"/>
<path d="M228.2,282.4L226.1,286.2H230.3Z"/>
<path d="M233.5,286.9L231.4,290.7H235.6Z"/>
<path d="M238.8,293L236.7,296.8H240.9Z"/>
<path d="M244.1,298.3L242,302.2H246.2Z"/>
<path d="M249.4,301.3L247.3,305.2H251.5Z"/>
<path d="M254.7,302.6L252.6,306.5H256.8Z"/>
<path d="M260,302.8L257.9,306.7H262.1Z"/>
<path d="M265.3,303L263.2,306.8H267.4Z"/>
</g>
<polyline points="164.6,314 169.9,313.4 175.2,312.8 180.5,312.1 185.8,310.8 191.1,308.9 196.4,307.4 201.7,305.9 207,303.7 212.3,301.1 217.6,298.5 222.9,295.1 228.2,290.9 233.5,290.1 238.8,295.5 244.1,300.8 249.4,303.8 254.7,305.1 260,305.3 265.3,305.3" fill="none" stroke="#8b0000" stroke-width="0.8" />
<g fill="#8b0000">
<circle cx="164.6" cy="314" r="2.0"/>
<circle cx="169.9" cy="313.4" r="2.0"/>
<circle cx="175.2" cy="312.8" r="2.0"/>
<circle cx="180.5" cy="312.1" r="2.0"/>
<circle cx="185.8" cy="310.8" r="2.0"/>
<circle cx="191.1" cy="308.9" r="2.0"/>
<circle cx="196.4" cy="307.4" r="2.0"/>
<circle cx="201.7" cy="305.9" r="2.0"/>
<circle cx="207" cy="303.7" r="2.0"/>
<circle cx="212.3" cy="301.1" r="2.0"/>
<circle cx="217.6" cy="298.5" r="2.0"/>
<circle cx="222.9" cy="295.1" r="2.0"/>
<circle cx="228.2" cy="290.9" r="2.0"/>
<circle cx="233.5" cy="290.1" r="2.0"/>
<circle cx="238.8" cy="295.5" r="2.0"/>
<circle cx="244.1" cy="300.8" r="2.0"/>
<circle cx="249.4" cy="303.8" r="2.0"/>
<circle cx="254.7" cy="305.1" r="2.0"/>
<circle cx="260" cy="305.3" r="2.0"/>
<circle cx="265.3" cy="305.3" r="2.0"/>
</g>
</g>
<clipPath id="cf2"><rect x="164.3" y="321.8" width="104.9" height="56.5"/></clipPath><g clip-path="url(#cf2)">
<polyline points="164.9,361.9 169.9,354.6 174.8,350.2 180.1,352.6 185.7,351.2 190.6,348.5 195.6,345.6 200.9,342.7 206.1,339.1 211.4,329.8 216.8,330.8 221.9,340.9 227.5,356.9 233,368.6 237.7,374.7 242.7,368 248.2,375.5 253.5,377 258.8,375.8 264,377.2 269,377.5" fill="none" stroke="#585858" stroke-width="0.7" />
<g fill="#fff" stroke="#585858" stroke-width="0.85">
<path d="M164.9,359.6L162.8,363.5H167Z"/>
<path d="M169.9,352.3L167.8,356.2H172Z"/>
<path d="M174.8,347.9L172.7,351.8H176.9Z"/>
<path d="M180.1,350.3L178,354.2H182.2Z"/>
<path d="M185.7,348.9L183.6,352.8H187.8Z"/>
<path d="M190.6,346.2L188.5,350.1H192.7Z"/>
<path d="M195.6,343.3L193.5,347.2H197.7Z"/>
<path d="M200.9,340.4L198.8,344.3H203Z"/>
<path d="M206.1,336.8L204,340.7H208.2Z"/>
<path d="M211.4,327.5L209.3,331.4H213.5Z"/>
<path d="M216.8,328.5L214.7,332.4H218.9Z"/>
<path d="M221.9,338.6L219.8,342.5H224Z"/>
<path d="M227.5,354.6L225.4,358.5H229.6Z"/>
<path d="M233,366.3L230.9,370.2H235.1Z"/>
<path d="M237.7,372.4L235.6,376.3H239.8Z"/>
<path d="M242.7,365.7L240.6,369.6H244.8Z"/>
<path d="M248.2,373.2L246.1,377.1H250.3Z"/>
<path d="M253.5,374.7L251.4,378.6H255.6Z"/>
<path d="M258.8,373.5L256.7,377.4H260.9Z"/>
<path d="M264,374.9L261.9,378.8H266.1Z"/>
<path d="M269,375.2L266.9,379.1H271.1Z"/>
</g>
<polyline points="164.9,361.9 169.9,360.5 174.8,359.9 180.1,361.9 185.3,365.4 190.6,363.5 195.6,360.5 201.5,357.1 206.9,355.1 212,352.6 216.8,341.3 221.9,336.7 227.5,339.5 233,367.2 237.7,374.1 242.7,374.7 248.2,376.5 253.5,377.2 258.8,377 264,377.5 269,377.5" fill="none" stroke="#8b0000" stroke-width="0.8" />
<g fill="#8b0000">
<circle cx="164.9" cy="361.9" r="2.0"/>
<circle cx="169.9" cy="360.5" r="2.0"/>
<circle cx="174.8" cy="359.9" r="2.0"/>
<circle cx="180.1" cy="361.9" r="2.0"/>
<circle cx="185.3" cy="365.4" r="2.0"/>
<circle cx="190.6" cy="363.5" r="2.0"/>
<circle cx="195.6" cy="360.5" r="2.0"/>
<circle cx="201.5" cy="357.1" r="2.0"/>
<circle cx="206.9" cy="355.1" r="2.0"/>
<circle cx="212" cy="352.6" r="2.0"/>
<circle cx="216.8" cy="341.3" r="2.0"/>
<circle cx="221.9" cy="336.7" r="2.0"/>
<circle cx="227.5" cy="339.5" r="2.0"/>
<circle cx="233" cy="367.2" r="2.0"/>
<circle cx="237.7" cy="374.1" r="2.0"/>
<circle cx="242.7" cy="374.7" r="2.0"/>
<circle cx="248.2" cy="376.5" r="2.0"/>
<circle cx="253.5" cy="377.2" r="2.0"/>
<circle cx="258.8" cy="377" r="2.0"/>
<circle cx="264" cy="377.5" r="2.0"/>
<circle cx="269" cy="377.5" r="2.0"/>
</g>
<g fill="#fff" stroke="#585858" stroke-width="0.85">
<path d="M242.7,365.7L240.6,369.6H244.8Z"/>
<path d="M248.2,373.2L246.1,377.1H250.3Z"/>
<path d="M253.5,374.7L251.4,378.6H255.6Z"/>
<path d="M258.8,373.5L256.7,377.4H260.9Z"/>
<path d="M264,374.9L261.9,378.8H266.1Z"/>
<path d="M269,375.2L266.9,379.1H271.1Z"/>
</g>
</g>
<rect x="164.3" y="263.7" width="104.9" height="114.6" fill="none" stroke="#000" stroke-width="1.3"/>
<line x1="164.3" y1="321.8" x2="269.2" y2="321.8" stroke="#000" stroke-width="1.3" />
<text x="166.5" y="275.8" font-size="10.5" >(f) dc : 0 G, ac: 1 G</text>
<text x="174.8" y="288.7" font-size="10" fill="#505050" >0.1 Hz</text>
<text x="217.2" y="315.4" font-size="10" fill="#8b0000" >100 Hz</text>
<text x="171.8" y="338.2" font-size="10" fill="#505050" >0.1 Hz</text>
<text x="200.5" y="376.3" font-size="10" fill="#8b0000" >100 Hz</text>
<path d="M184.7,296.6 Q190,306 203,309.2" fill="none" stroke="#8b0000" stroke-width="1.6"/><polygon points="209,310.8 202,311.6 203.6,306.6" fill="#8b0000"/>
<path d="M185.7,344.7 L207,359.3" fill="none" stroke="#8b0000" stroke-width="1.6"/><polygon points="212.6,363.2 205.2,361.4 208.2,356.8" fill="#8b0000"/>
<line x1="190.5" y1="378.3" x2="190.5" y2="375.8" stroke="#000" stroke-width="1.1" />
<line x1="190.5" y1="319.3" x2="190.5" y2="324.3" stroke="#000" stroke-width="1.1" />
<line x1="216.8" y1="378.3" x2="216.8" y2="373.3" stroke="#000" stroke-width="1.1" />
<line x1="216.8" y1="316.8" x2="216.8" y2="326.8" stroke="#000" stroke-width="1.1" />
<line x1="243" y1="378.3" x2="243" y2="375.8" stroke="#000" stroke-width="1.1" />
<line x1="243" y1="319.3" x2="243" y2="324.3" stroke="#000" stroke-width="1.1" />
<text x="164.3" y="393.2" font-size="11.3" text-anchor="middle" >26</text>
<text x="216.8" y="393.2" font-size="11.3" text-anchor="middle" >27</text>
<text x="268.2" y="393.2" font-size="11.3" text-anchor="middle" >28</text>
<text x="219.9" y="405.8" font-size="12" text-anchor="middle" >T (K)</text>
<line x1="269.2" y1="318.4" x2="264.2" y2="318.4" stroke="#000" stroke-width="1.1" />
<line x1="269.2" y1="304.7" x2="266.7" y2="304.7" stroke="#000" stroke-width="1.1" />
<line x1="269.2" y1="291" x2="264.2" y2="291" stroke="#000" stroke-width="1.1" />
<line x1="269.2" y1="277.3" x2="266.7" y2="277.3" stroke="#000" stroke-width="1.1" />
<line x1="269.2" y1="360.6" x2="266.7" y2="360.6" stroke="#000" stroke-width="1.1" />
<line x1="269.2" y1="343.2" x2="264.2" y2="343.2" stroke="#000" stroke-width="1.1" />
<line x1="269.2" y1="325.8" x2="266.7" y2="325.8" stroke="#000" stroke-width="1.1" />
<text x="273.7" y="267.5" font-size="11" >20</text>
<text x="273.7" y="294.9" font-size="11" >18</text>
<text x="273.7" y="322.3" font-size="11" >16</text>
<text x="273.7" y="347.1" font-size="11" >0.4</text>
<text x="273.7" y="381.9" font-size="11" >0.0</text>
<text transform="translate(292.2,290.3) rotate(90)" font-size="12.3" text-anchor="middle" fill="#000">(emu/mol)</text>
<text transform="translate(292.2,354.7) rotate(90)" font-size="12.3" text-anchor="middle" fill="#000">(emu/mol)</text>
<text transform="translate(311,283.3) rotate(90)" font-size="11.8" font-family="Liberation Serif, serif">χ</text>
<text transform="translate(313.2,290.2) rotate(90)" font-size="9" >'</text>
<text transform="translate(306.8,291.4) rotate(90)" font-size="6.5" letter-spacing="1.8">ac</text>
<text transform="translate(311,343.6) rotate(90)" font-size="11.8" font-family="Liberation Serif, serif">χ</text>
<text transform="translate(313.2,350.4) rotate(90)" font-size="9" >"</text>
<text transform="translate(306.8,349.3) rotate(90)" font-size="6.5" letter-spacing="1.8">ac</text>
<clipPath id="cg"><rect x="164.4" y="417.8" width="104.7" height="56.4"/></clipPath><g clip-path="url(#cg)">
<line x1="176" y1="472.9" x2="269" y2="423.1" stroke="#0000ff" stroke-width="1.1" stroke-dasharray="1.2,1.2"/>
<line x1="187.8" y1="463.5" x2="187.8" y2="472.2" stroke="#0000ff" stroke-width="0.9" />
<line x1="185" y1="463.5" x2="190.6" y2="463.5" stroke="#0000ff" stroke-width="0.9" />
<line x1="185" y1="472.2" x2="190.6" y2="472.2" stroke="#0000ff" stroke-width="0.9" />
<line x1="206.3" y1="453.3" x2="206.3" y2="456.8" stroke="#0000ff" stroke-width="0.9" />
<line x1="203.5" y1="453.3" x2="209.1" y2="453.3" stroke="#0000ff" stroke-width="0.9" />
<line x1="203.5" y1="456.8" x2="209.1" y2="456.8" stroke="#0000ff" stroke-width="0.9" />
<line x1="224.2" y1="449.1" x2="224.2" y2="456.3" stroke="#0000ff" stroke-width="0.9" />
<line x1="221.4" y1="449.1" x2="227" y2="449.1" stroke="#0000ff" stroke-width="0.9" />
<line x1="221.4" y1="456.3" x2="227" y2="456.3" stroke="#0000ff" stroke-width="0.9" />
<line x1="242.5" y1="435.8" x2="242.5" y2="448.1" stroke="#0000ff" stroke-width="0.9" />
<line x1="239.7" y1="435.8" x2="245.3" y2="435.8" stroke="#0000ff" stroke-width="0.9" />
<line x1="239.7" y1="448.1" x2="245.3" y2="448.1" stroke="#0000ff" stroke-width="0.9" />
<line x1="260.6" y1="426.8" x2="260.6" y2="429.5" stroke="#0000ff" stroke-width="0.9" />
<line x1="257.8" y1="426.8" x2="263.4" y2="426.8" stroke="#0000ff" stroke-width="0.9" />
<line x1="257.8" y1="429.5" x2="263.4" y2="429.5" stroke="#0000ff" stroke-width="0.9" />
<g fill="#0000ff" stroke="#0000b0" stroke-width="0.5">
<circle cx="187.8" cy="467.3" r="3.0"/>
<circle cx="206.3" cy="455" r="3.0"/>
<circle cx="224.2" cy="452.4" r="3.0"/>
<circle cx="242.5" cy="442.2" r="3.0"/>
<circle cx="260.6" cy="428.1" r="3.0"/>
</g>
<g fill="#6a8aff">
<circle cx="186.9" cy="466.4" r="1.0"/>
<circle cx="205.4" cy="454.1" r="1.0"/>
<circle cx="223.3" cy="451.5" r="1.0"/>
<circle cx="241.6" cy="441.3" r="1.0"/>
<circle cx="259.7" cy="427.2" r="1.0"/>
</g>
</g>
<rect x="164.4" y="417.8" width="104.7" height="56.4" fill="none" stroke="#000" stroke-width="1.3"/>
<text x="167.3" y="431.9" font-size="10" >(g)</text>
<line x1="165.4" y1="474.2" x2="165.4" y2="471.5" stroke="#000" stroke-width="1.0" />
<line x1="166.7" y1="474.2" x2="166.7" y2="471.5" stroke="#000" stroke-width="1.0" />
<line x1="167.7" y1="474.2" x2="167.7" y2="471.5" stroke="#000" stroke-width="1.0" />
<line x1="168.7" y1="474.2" x2="168.7" y2="471.5" stroke="#000" stroke-width="1.0" />
<line x1="169.5" y1="474.2" x2="169.5" y2="469.2" stroke="#000" stroke-width="1.2" />
<line x1="175" y1="474.2" x2="175" y2="471.5" stroke="#000" stroke-width="1.0" />
<line x1="178.2" y1="474.2" x2="178.2" y2="471.5" stroke="#000" stroke-width="1.0" />
<line x1="180.5" y1="474.2" x2="180.5" y2="471.5" stroke="#000" stroke-width="1.0" />
<line x1="182.3" y1="474.2" x2="182.3" y2="471.5" stroke="#000" stroke-width="1.0" />
<line x1="183.7" y1="474.2" x2="183.7" y2="471.5" stroke="#000" stroke-width="1.0" />
<line x1="185" y1="474.2" x2="185" y2="471.5" stroke="#000" stroke-width="1.0" />
<line x1="186" y1="474.2" x2="186" y2="471.5" stroke="#000" stroke-width="1.0" />
<line x1="187" y1="474.2" x2="187" y2="471.5" stroke="#000" stroke-width="1.0" />
<line x1="187.8" y1="474.2" x2="187.8" y2="469.2" stroke="#000" stroke-width="1.2" />
<line x1="193.3" y1="474.2" x2="193.3" y2="471.5" stroke="#000" stroke-width="1.0" />
<line x1="196.5" y1="474.2" x2="196.5" y2="471.5" stroke="#000" stroke-width="1.0" />
<line x1="198.8" y1="474.2" x2="198.8" y2="471.5" stroke="#000" stroke-width="1.0" />
<line x1="200.6" y1="474.2" x2="200.6" y2="471.5" stroke="#000" stroke-width="1.0" />
<line x1="202" y1="474.2" x2="202" y2="471.5" stroke="#000" stroke-width="1.0" />
<line x1="203.3" y1="474.2" x2="203.3" y2="471.5" stroke="#000" stroke-width="1.0" />
<line x1="204.3" y1="474.2" x2="204.3" y2="471.5" stroke="#000" stroke-width="1.0" />
<line x1="205.3" y1="474.2" x2="205.3" y2="471.5" stroke="#000" stroke-width="1.0" />
<line x1="206.1" y1="474.2" x2="206.1" y2="469.2" stroke="#000" stroke-width="1.2" />
<line x1="211.6" y1="474.2" x2="211.6" y2="471.5" stroke="#000" stroke-width="1.0" />
<line x1="214.8" y1="474.2" x2="214.8" y2="471.5" stroke="#000" stroke-width="1.0" />
<line x1="217.1" y1="474.2" x2="217.1" y2="471.5" stroke="#000" stroke-width="1.0" />
<line x1="218.9" y1="474.2" x2="218.9" y2="471.5" stroke="#000" stroke-width="1.0" />
<line x1="220.3" y1="474.2" x2="220.3" y2="471.5" stroke="#000" stroke-width="1.0" />
<line x1="221.6" y1="474.2" x2="221.6" y2="471.5" stroke="#000" stroke-width="1.0" />
<line x1="222.6" y1="474.2" x2="222.6" y2="471.5" stroke="#000" stroke-width="1.0" />
<line x1="223.6" y1="474.2" x2="223.6" y2="471.5" stroke="#000" stroke-width="1.0" />
<line x1="224.4" y1="474.2" x2="224.4" y2="469.2" stroke="#000" stroke-width="1.2" />
<line x1="229.9" y1="474.2" x2="229.9" y2="471.5" stroke="#000" stroke-width="1.0" />
<line x1="233.1" y1="474.2" x2="233.1" y2="471.5" stroke="#000" stroke-width="1.0" />
<line x1="235.4" y1="474.2" x2="235.4" y2="471.5" stroke="#000" stroke-width="1.0" />
<line x1="237.2" y1="474.2" x2="237.2" y2="471.5" stroke="#000" stroke-width="1.0" />
<line x1="238.6" y1="474.2" x2="238.6" y2="471.5" stroke="#000" stroke-width="1.0" />
<line x1="239.9" y1="474.2" x2="239.9" y2="471.5" stroke="#000" stroke-width="1.0" />
<line x1="240.9" y1="474.2" x2="240.9" y2="471.5" stroke="#000" stroke-width="1.0" />
<line x1="241.9" y1="474.2" x2="241.9" y2="471.5" stroke="#000" stroke-width="1.0" />
<line x1="242.7" y1="474.2" x2="242.7" y2="469.2" stroke="#000" stroke-width="1.2" />
<line x1="248.2" y1="474.2" x2="248.2" y2="471.5" stroke="#000" stroke-width="1.0" />
<line x1="251.4" y1="474.2" x2="251.4" y2="471.5" stroke="#000" stroke-width="1.0" />
<line x1="253.7" y1="474.2" x2="253.7" y2="471.5" stroke="#000" stroke-width="1.0" />
<line x1="255.5" y1="474.2" x2="255.5" y2="471.5" stroke="#000" stroke-width="1.0" />
<line x1="256.9" y1="474.2" x2="256.9" y2="471.5" stroke="#000" stroke-width="1.0" />
<line x1="258.2" y1="474.2" x2="258.2" y2="471.5" stroke="#000" stroke-width="1.0" />
<line x1="259.2" y1="474.2" x2="259.2" y2="471.5" stroke="#000" stroke-width="1.0" />
<line x1="260.2" y1="474.2" x2="260.2" y2="471.5" stroke="#000" stroke-width="1.0" />
<line x1="261" y1="474.2" x2="261" y2="469.2" stroke="#000" stroke-width="1.2" />
<line x1="266.5" y1="474.2" x2="266.5" y2="471.5" stroke="#000" stroke-width="1.0" />
<text x="187.4" y="488.8" font-size="11.3" text-anchor="middle" >0.1</text>
<text x="224" y="488.8" font-size="11.3" text-anchor="middle" >10</text>
<text x="259.8" y="488.8" font-size="11.3" text-anchor="middle" >1000</text>
<text x="220.6" y="502.2" font-size="12" text-anchor="middle"><tspan font-family="Liberation Serif, serif" font-size="12">ν</tspan> (Hz)</text>
<line x1="269.1" y1="456.3" x2="264.1" y2="456.3" stroke="#000" stroke-width="1.1" />
<line x1="269.1" y1="437" x2="266.6" y2="437" stroke="#000" stroke-width="1.1" />
<text x="274" y="421.7" font-size="11" >27.2</text>
<text x="274" y="460.2" font-size="11" >27.0</text>
<text transform="translate(311.9,430.3) rotate(90)" font-size="11.5" font-family="Liberation Serif, serif">T<tspan font-size="6.5" dy="3.5">2</tspan><tspan dy="-3.5"> (K)</tspan></text>
</svg>
</body></html>
